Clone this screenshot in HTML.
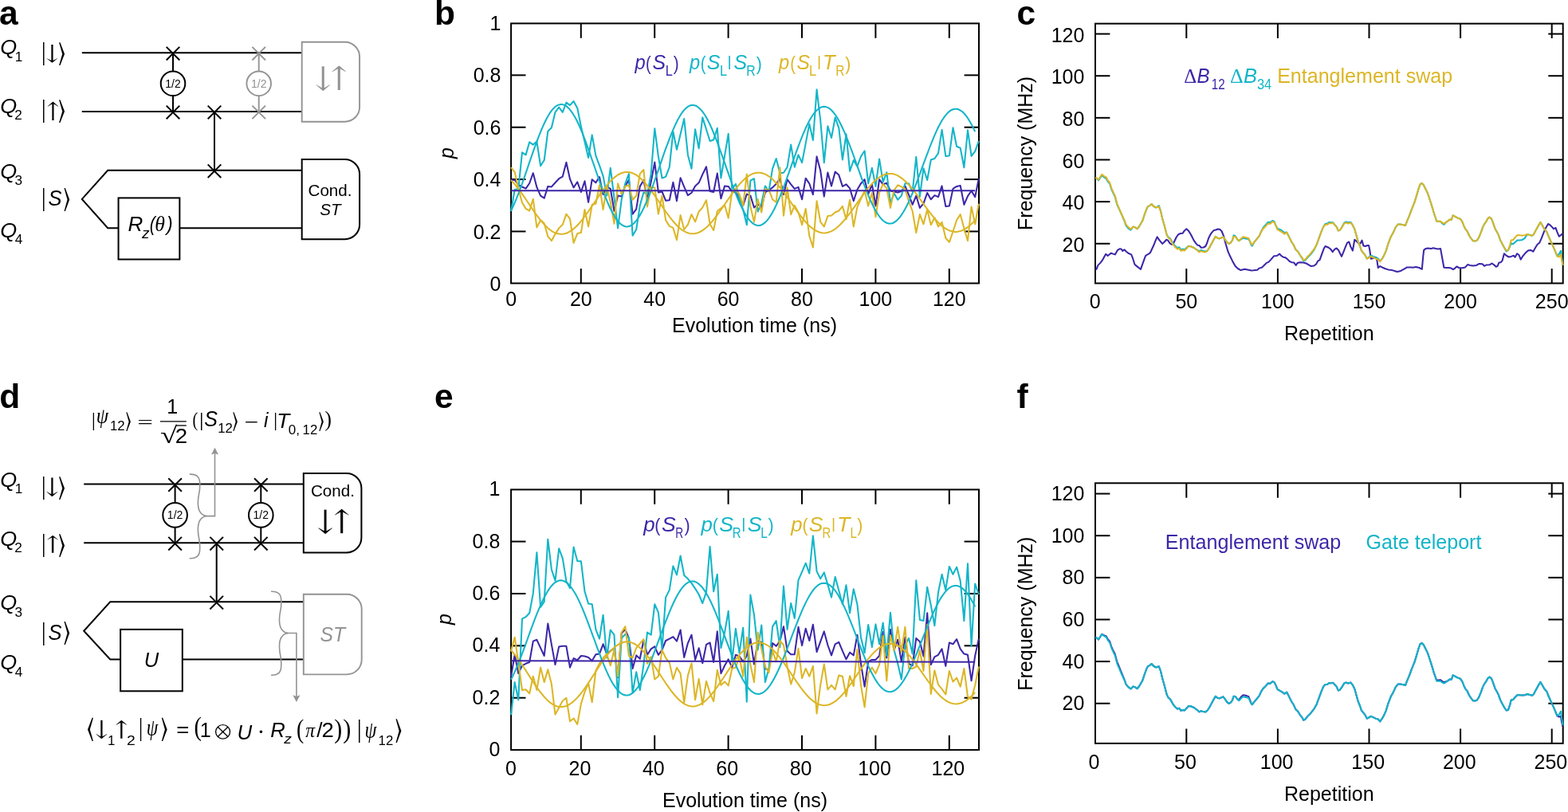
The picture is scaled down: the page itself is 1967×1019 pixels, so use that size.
<!DOCTYPE html>
<html lang="en"><head><meta charset="utf-8"><title>Figure</title>
<style>
html,body{margin:0;padding:0;background:#fff;}
body{width:1967px;height:1019px;overflow:hidden;}
svg{display:block;}
text{white-space:pre;}
</style></head><body>
<svg width="1967" height="1019" viewBox="0 0 1967 1019">
<rect x="0" y="0" width="1967" height="1019" fill="#ffffff"/>
<text x="-0.90" y="30.80" text-anchor="start" fill="#000" style='font-family:"Liberation Sans", sans-serif;font-size:42.5px;font-weight:bold;' >a</text>
<text x="545.10" y="30.80" text-anchor="start" fill="#000" style='font-family:"Liberation Sans", sans-serif;font-size:42.5px;font-weight:bold;' >b</text>
<text x="1275.40" y="30.80" text-anchor="start" fill="#000" style='font-family:"Liberation Sans", sans-serif;font-size:42.5px;font-weight:bold;' >c</text>
<text x="-0.80" y="512.00" text-anchor="start" fill="#000" style='font-family:"Liberation Sans", sans-serif;font-size:42.5px;font-weight:bold;' >d</text>
<text x="544.90" y="512.00" text-anchor="start" fill="#000" style='font-family:"Liberation Sans", sans-serif;font-size:42.5px;font-weight:bold;' >e</text>
<text x="1275.50" y="512.00" text-anchor="start" fill="#000" style='font-family:"Liberation Sans", sans-serif;font-size:42.5px;font-weight:bold;' >f</text>
<rect x="641.1" y="29.4" width="586.9" height="326.1" fill="none" stroke="#000" stroke-width="2.0"/>
<line x1="728.80" y1="355.50" x2="728.80" y2="337.10" stroke="#000" stroke-width="2.0" stroke-linecap="butt"/>
<line x1="728.80" y1="29.40" x2="728.80" y2="47.80" stroke="#000" stroke-width="2.0" stroke-linecap="butt"/>
<line x1="821.20" y1="355.50" x2="821.20" y2="337.10" stroke="#000" stroke-width="2.0" stroke-linecap="butt"/>
<line x1="821.20" y1="29.40" x2="821.20" y2="47.80" stroke="#000" stroke-width="2.0" stroke-linecap="butt"/>
<line x1="913.60" y1="355.50" x2="913.60" y2="337.10" stroke="#000" stroke-width="2.0" stroke-linecap="butt"/>
<line x1="913.60" y1="29.40" x2="913.60" y2="47.80" stroke="#000" stroke-width="2.0" stroke-linecap="butt"/>
<line x1="1006.00" y1="355.50" x2="1006.00" y2="337.10" stroke="#000" stroke-width="2.0" stroke-linecap="butt"/>
<line x1="1006.00" y1="29.40" x2="1006.00" y2="47.80" stroke="#000" stroke-width="2.0" stroke-linecap="butt"/>
<line x1="1098.40" y1="355.50" x2="1098.40" y2="337.10" stroke="#000" stroke-width="2.0" stroke-linecap="butt"/>
<line x1="1098.40" y1="29.40" x2="1098.40" y2="47.80" stroke="#000" stroke-width="2.0" stroke-linecap="butt"/>
<line x1="1190.80" y1="355.50" x2="1190.80" y2="337.10" stroke="#000" stroke-width="2.0" stroke-linecap="butt"/>
<line x1="1190.80" y1="29.40" x2="1190.80" y2="47.80" stroke="#000" stroke-width="2.0" stroke-linecap="butt"/>
<line x1="641.10" y1="290.44" x2="659.50" y2="290.44" stroke="#000" stroke-width="2.0" stroke-linecap="butt"/>
<line x1="1228.00" y1="290.44" x2="1209.60" y2="290.44" stroke="#000" stroke-width="2.0" stroke-linecap="butt"/>
<line x1="641.10" y1="225.08" x2="659.50" y2="225.08" stroke="#000" stroke-width="2.0" stroke-linecap="butt"/>
<line x1="1228.00" y1="225.08" x2="1209.60" y2="225.08" stroke="#000" stroke-width="2.0" stroke-linecap="butt"/>
<line x1="641.10" y1="159.72" x2="659.50" y2="159.72" stroke="#000" stroke-width="2.0" stroke-linecap="butt"/>
<line x1="1228.00" y1="159.72" x2="1209.60" y2="159.72" stroke="#000" stroke-width="2.0" stroke-linecap="butt"/>
<line x1="641.10" y1="94.36" x2="659.50" y2="94.36" stroke="#000" stroke-width="2.0" stroke-linecap="butt"/>
<line x1="1228.00" y1="94.36" x2="1209.60" y2="94.36" stroke="#000" stroke-width="2.0" stroke-linecap="butt"/>
<text x="641.10" y="384.00" text-anchor="middle" fill="#000" style='font-family:"Liberation Sans", sans-serif;font-size:25.0px;' >0</text>
<text x="728.80" y="384.00" text-anchor="middle" fill="#000" style='font-family:"Liberation Sans", sans-serif;font-size:25.0px;' >20</text>
<text x="821.20" y="384.00" text-anchor="middle" fill="#000" style='font-family:"Liberation Sans", sans-serif;font-size:25.0px;' >40</text>
<text x="913.60" y="384.00" text-anchor="middle" fill="#000" style='font-family:"Liberation Sans", sans-serif;font-size:25.0px;' >60</text>
<text x="1006.00" y="384.00" text-anchor="middle" fill="#000" style='font-family:"Liberation Sans", sans-serif;font-size:25.0px;' >80</text>
<text x="1098.40" y="384.00" text-anchor="middle" fill="#000" style='font-family:"Liberation Sans", sans-serif;font-size:25.0px;' >100</text>
<text x="1190.80" y="384.00" text-anchor="middle" fill="#000" style='font-family:"Liberation Sans", sans-serif;font-size:25.0px;' >120</text>
<text x="628.40" y="364.90" text-anchor="end" fill="#000" style='font-family:"Liberation Sans", sans-serif;font-size:25.0px;' >0</text>
<text x="628.40" y="299.54" text-anchor="end" fill="#000" style='font-family:"Liberation Sans", sans-serif;font-size:25.0px;' >0.2</text>
<text x="628.40" y="234.18" text-anchor="end" fill="#000" style='font-family:"Liberation Sans", sans-serif;font-size:25.0px;' >0.4</text>
<text x="628.40" y="168.82" text-anchor="end" fill="#000" style='font-family:"Liberation Sans", sans-serif;font-size:25.0px;' >0.6</text>
<text x="628.40" y="103.46" text-anchor="end" fill="#000" style='font-family:"Liberation Sans", sans-serif;font-size:25.0px;' >0.8</text>
<text x="628.40" y="38.10" text-anchor="end" fill="#000" style='font-family:"Liberation Sans", sans-serif;font-size:25.0px;' >1</text>
<text x="843.00" y="416.80" text-anchor="start" fill="#000" style='font-family:"Liberation Sans", sans-serif;font-size:25.0px;' >Evolution time (ns)</text>
<text transform='translate(568.5,192) rotate(-90)' text-anchor='middle' style='font-family:"Liberation Sans", sans-serif;font-size:25.0px;font-style:italic'>p</text>
<rect x="641.1" y="614.4" width="586.9" height="326.70000000000005" fill="none" stroke="#000" stroke-width="2.0"/>
<line x1="728.80" y1="941.10" x2="728.80" y2="922.70" stroke="#000" stroke-width="2.0" stroke-linecap="butt"/>
<line x1="728.80" y1="614.40" x2="728.80" y2="632.80" stroke="#000" stroke-width="2.0" stroke-linecap="butt"/>
<line x1="821.20" y1="941.10" x2="821.20" y2="922.70" stroke="#000" stroke-width="2.0" stroke-linecap="butt"/>
<line x1="821.20" y1="614.40" x2="821.20" y2="632.80" stroke="#000" stroke-width="2.0" stroke-linecap="butt"/>
<line x1="913.60" y1="941.10" x2="913.60" y2="922.70" stroke="#000" stroke-width="2.0" stroke-linecap="butt"/>
<line x1="913.60" y1="614.40" x2="913.60" y2="632.80" stroke="#000" stroke-width="2.0" stroke-linecap="butt"/>
<line x1="1006.00" y1="941.10" x2="1006.00" y2="922.70" stroke="#000" stroke-width="2.0" stroke-linecap="butt"/>
<line x1="1006.00" y1="614.40" x2="1006.00" y2="632.80" stroke="#000" stroke-width="2.0" stroke-linecap="butt"/>
<line x1="1098.40" y1="941.10" x2="1098.40" y2="922.70" stroke="#000" stroke-width="2.0" stroke-linecap="butt"/>
<line x1="1098.40" y1="614.40" x2="1098.40" y2="632.80" stroke="#000" stroke-width="2.0" stroke-linecap="butt"/>
<line x1="1190.80" y1="941.10" x2="1190.80" y2="922.70" stroke="#000" stroke-width="2.0" stroke-linecap="butt"/>
<line x1="1190.80" y1="614.40" x2="1190.80" y2="632.80" stroke="#000" stroke-width="2.0" stroke-linecap="butt"/>
<line x1="641.10" y1="875.72" x2="659.50" y2="875.72" stroke="#000" stroke-width="2.0" stroke-linecap="butt"/>
<line x1="1228.00" y1="875.72" x2="1209.60" y2="875.72" stroke="#000" stroke-width="2.0" stroke-linecap="butt"/>
<line x1="641.10" y1="810.34" x2="659.50" y2="810.34" stroke="#000" stroke-width="2.0" stroke-linecap="butt"/>
<line x1="1228.00" y1="810.34" x2="1209.60" y2="810.34" stroke="#000" stroke-width="2.0" stroke-linecap="butt"/>
<line x1="641.10" y1="744.96" x2="659.50" y2="744.96" stroke="#000" stroke-width="2.0" stroke-linecap="butt"/>
<line x1="1228.00" y1="744.96" x2="1209.60" y2="744.96" stroke="#000" stroke-width="2.0" stroke-linecap="butt"/>
<line x1="641.10" y1="679.58" x2="659.50" y2="679.58" stroke="#000" stroke-width="2.0" stroke-linecap="butt"/>
<line x1="1228.00" y1="679.58" x2="1209.60" y2="679.58" stroke="#000" stroke-width="2.0" stroke-linecap="butt"/>
<text x="641.00" y="973.30" text-anchor="middle" fill="#000" style='font-family:"Liberation Sans", sans-serif;font-size:25.0px;' >0</text>
<text x="727.40" y="973.30" text-anchor="middle" fill="#000" style='font-family:"Liberation Sans", sans-serif;font-size:25.0px;' >20</text>
<text x="819.80" y="973.30" text-anchor="middle" fill="#000" style='font-family:"Liberation Sans", sans-serif;font-size:25.0px;' >40</text>
<text x="912.20" y="973.30" text-anchor="middle" fill="#000" style='font-family:"Liberation Sans", sans-serif;font-size:25.0px;' >60</text>
<text x="1004.60" y="973.30" text-anchor="middle" fill="#000" style='font-family:"Liberation Sans", sans-serif;font-size:25.0px;' >80</text>
<text x="1097.00" y="973.30" text-anchor="middle" fill="#000" style='font-family:"Liberation Sans", sans-serif;font-size:25.0px;' >100</text>
<text x="1189.40" y="973.30" text-anchor="middle" fill="#000" style='font-family:"Liberation Sans", sans-serif;font-size:25.0px;' >120</text>
<text x="627.30" y="949.20" text-anchor="end" fill="#000" style='font-family:"Liberation Sans", sans-serif;font-size:25.0px;' >0</text>
<text x="627.30" y="883.82" text-anchor="end" fill="#000" style='font-family:"Liberation Sans", sans-serif;font-size:25.0px;' >0.2</text>
<text x="627.30" y="818.44" text-anchor="end" fill="#000" style='font-family:"Liberation Sans", sans-serif;font-size:25.0px;' >0.4</text>
<text x="627.30" y="753.06" text-anchor="end" fill="#000" style='font-family:"Liberation Sans", sans-serif;font-size:25.0px;' >0.6</text>
<text x="627.30" y="687.68" text-anchor="end" fill="#000" style='font-family:"Liberation Sans", sans-serif;font-size:25.0px;' >0.8</text>
<text x="627.30" y="622.30" text-anchor="end" fill="#000" style='font-family:"Liberation Sans", sans-serif;font-size:25.0px;' >1</text>
<text x="831.00" y="1013.00" text-anchor="start" fill="#000" style='font-family:"Liberation Sans", sans-serif;font-size:25.0px;' >Evolution time (ns)</text>
<text transform='translate(566.0,777) rotate(-90)' text-anchor='middle' style='font-family:"Liberation Sans", sans-serif;font-size:25.0px;font-style:italic'>p</text>
<rect x="1374.0" y="29.65" width="586.7" height="325.85" fill="none" stroke="#000" stroke-width="2.0"/>
<line x1="1488.30" y1="355.50" x2="1488.30" y2="337.10" stroke="#000" stroke-width="2.0" stroke-linecap="butt"/>
<line x1="1488.30" y1="29.65" x2="1488.30" y2="48.05" stroke="#000" stroke-width="2.0" stroke-linecap="butt"/>
<line x1="1602.90" y1="355.50" x2="1602.90" y2="337.10" stroke="#000" stroke-width="2.0" stroke-linecap="butt"/>
<line x1="1602.90" y1="29.65" x2="1602.90" y2="48.05" stroke="#000" stroke-width="2.0" stroke-linecap="butt"/>
<line x1="1717.50" y1="355.50" x2="1717.50" y2="337.10" stroke="#000" stroke-width="2.0" stroke-linecap="butt"/>
<line x1="1717.50" y1="29.65" x2="1717.50" y2="48.05" stroke="#000" stroke-width="2.0" stroke-linecap="butt"/>
<line x1="1832.10" y1="355.50" x2="1832.10" y2="337.10" stroke="#000" stroke-width="2.0" stroke-linecap="butt"/>
<line x1="1832.10" y1="29.65" x2="1832.10" y2="48.05" stroke="#000" stroke-width="2.0" stroke-linecap="butt"/>
<line x1="1946.70" y1="355.50" x2="1946.70" y2="337.10" stroke="#000" stroke-width="2.0" stroke-linecap="butt"/>
<line x1="1946.70" y1="29.65" x2="1946.70" y2="48.05" stroke="#000" stroke-width="2.0" stroke-linecap="butt"/>
<line x1="1374.00" y1="305.76" x2="1392.40" y2="305.76" stroke="#000" stroke-width="2.0" stroke-linecap="butt"/>
<line x1="1960.70" y1="305.76" x2="1942.30" y2="305.76" stroke="#000" stroke-width="2.0" stroke-linecap="butt"/>
<line x1="1374.00" y1="253.12" x2="1392.40" y2="253.12" stroke="#000" stroke-width="2.0" stroke-linecap="butt"/>
<line x1="1960.70" y1="253.12" x2="1942.30" y2="253.12" stroke="#000" stroke-width="2.0" stroke-linecap="butt"/>
<line x1="1374.00" y1="200.48" x2="1392.40" y2="200.48" stroke="#000" stroke-width="2.0" stroke-linecap="butt"/>
<line x1="1960.70" y1="200.48" x2="1942.30" y2="200.48" stroke="#000" stroke-width="2.0" stroke-linecap="butt"/>
<line x1="1374.00" y1="147.84" x2="1392.40" y2="147.84" stroke="#000" stroke-width="2.0" stroke-linecap="butt"/>
<line x1="1960.70" y1="147.84" x2="1942.30" y2="147.84" stroke="#000" stroke-width="2.0" stroke-linecap="butt"/>
<line x1="1374.00" y1="95.20" x2="1392.40" y2="95.20" stroke="#000" stroke-width="2.0" stroke-linecap="butt"/>
<line x1="1960.70" y1="95.20" x2="1942.30" y2="95.20" stroke="#000" stroke-width="2.0" stroke-linecap="butt"/>
<line x1="1374.00" y1="42.56" x2="1392.40" y2="42.56" stroke="#000" stroke-width="2.0" stroke-linecap="butt"/>
<line x1="1960.70" y1="42.56" x2="1942.30" y2="42.56" stroke="#000" stroke-width="2.0" stroke-linecap="butt"/>
<text x="1373.70" y="386.80" text-anchor="middle" fill="#000" style='font-family:"Liberation Sans", sans-serif;font-size:25.0px;' >0</text>
<text x="1488.30" y="386.80" text-anchor="middle" fill="#000" style='font-family:"Liberation Sans", sans-serif;font-size:25.0px;' >50</text>
<text x="1602.90" y="386.80" text-anchor="middle" fill="#000" style='font-family:"Liberation Sans", sans-serif;font-size:25.0px;' >100</text>
<text x="1717.50" y="386.80" text-anchor="middle" fill="#000" style='font-family:"Liberation Sans", sans-serif;font-size:25.0px;' >150</text>
<text x="1832.10" y="386.80" text-anchor="middle" fill="#000" style='font-family:"Liberation Sans", sans-serif;font-size:25.0px;' >200</text>
<text x="1946.70" y="386.80" text-anchor="middle" fill="#000" style='font-family:"Liberation Sans", sans-serif;font-size:25.0px;' >250</text>
<text x="1360.40" y="315.86" text-anchor="end" fill="#000" style='font-family:"Liberation Sans", sans-serif;font-size:25.0px;' >20</text>
<text x="1360.40" y="263.22" text-anchor="end" fill="#000" style='font-family:"Liberation Sans", sans-serif;font-size:25.0px;' >40</text>
<text x="1360.40" y="210.58" text-anchor="end" fill="#000" style='font-family:"Liberation Sans", sans-serif;font-size:25.0px;' >60</text>
<text x="1360.40" y="157.94" text-anchor="end" fill="#000" style='font-family:"Liberation Sans", sans-serif;font-size:25.0px;' >80</text>
<text x="1360.40" y="105.30" text-anchor="end" fill="#000" style='font-family:"Liberation Sans", sans-serif;font-size:25.0px;' >100</text>
<text x="1360.40" y="52.66" text-anchor="end" fill="#000" style='font-family:"Liberation Sans", sans-serif;font-size:25.0px;' >120</text>
<text x="1611.00" y="427.10" text-anchor="start" fill="#000" style='font-family:"Liberation Sans", sans-serif;font-size:25.0px;' >Repetition</text>
<text transform='translate(1295.4,192.4) rotate(-90)' text-anchor='middle' style='font-family:"Liberation Sans", sans-serif;font-size:25.0px;'>Frequency (MHz)</text>
<rect x="1374.0" y="606.3" width="586.7" height="326.6" fill="none" stroke="#000" stroke-width="2.0"/>
<line x1="1488.30" y1="932.90" x2="1488.30" y2="914.50" stroke="#000" stroke-width="2.0" stroke-linecap="butt"/>
<line x1="1488.30" y1="606.30" x2="1488.30" y2="624.70" stroke="#000" stroke-width="2.0" stroke-linecap="butt"/>
<line x1="1602.90" y1="932.90" x2="1602.90" y2="914.50" stroke="#000" stroke-width="2.0" stroke-linecap="butt"/>
<line x1="1602.90" y1="606.30" x2="1602.90" y2="624.70" stroke="#000" stroke-width="2.0" stroke-linecap="butt"/>
<line x1="1717.50" y1="932.90" x2="1717.50" y2="914.50" stroke="#000" stroke-width="2.0" stroke-linecap="butt"/>
<line x1="1717.50" y1="606.30" x2="1717.50" y2="624.70" stroke="#000" stroke-width="2.0" stroke-linecap="butt"/>
<line x1="1832.10" y1="932.90" x2="1832.10" y2="914.50" stroke="#000" stroke-width="2.0" stroke-linecap="butt"/>
<line x1="1832.10" y1="606.30" x2="1832.10" y2="624.70" stroke="#000" stroke-width="2.0" stroke-linecap="butt"/>
<line x1="1946.70" y1="932.90" x2="1946.70" y2="914.50" stroke="#000" stroke-width="2.0" stroke-linecap="butt"/>
<line x1="1946.70" y1="606.30" x2="1946.70" y2="624.70" stroke="#000" stroke-width="2.0" stroke-linecap="butt"/>
<line x1="1374.00" y1="882.76" x2="1392.40" y2="882.76" stroke="#000" stroke-width="2.0" stroke-linecap="butt"/>
<line x1="1960.70" y1="882.76" x2="1942.30" y2="882.76" stroke="#000" stroke-width="2.0" stroke-linecap="butt"/>
<line x1="1374.00" y1="830.12" x2="1392.40" y2="830.12" stroke="#000" stroke-width="2.0" stroke-linecap="butt"/>
<line x1="1960.70" y1="830.12" x2="1942.30" y2="830.12" stroke="#000" stroke-width="2.0" stroke-linecap="butt"/>
<line x1="1374.00" y1="777.48" x2="1392.40" y2="777.48" stroke="#000" stroke-width="2.0" stroke-linecap="butt"/>
<line x1="1960.70" y1="777.48" x2="1942.30" y2="777.48" stroke="#000" stroke-width="2.0" stroke-linecap="butt"/>
<line x1="1374.00" y1="724.84" x2="1392.40" y2="724.84" stroke="#000" stroke-width="2.0" stroke-linecap="butt"/>
<line x1="1960.70" y1="724.84" x2="1942.30" y2="724.84" stroke="#000" stroke-width="2.0" stroke-linecap="butt"/>
<line x1="1374.00" y1="672.20" x2="1392.40" y2="672.20" stroke="#000" stroke-width="2.0" stroke-linecap="butt"/>
<line x1="1960.70" y1="672.20" x2="1942.30" y2="672.20" stroke="#000" stroke-width="2.0" stroke-linecap="butt"/>
<line x1="1374.00" y1="619.56" x2="1392.40" y2="619.56" stroke="#000" stroke-width="2.0" stroke-linecap="butt"/>
<line x1="1960.70" y1="619.56" x2="1942.30" y2="619.56" stroke="#000" stroke-width="2.0" stroke-linecap="butt"/>
<text x="1372.40" y="965.30" text-anchor="middle" fill="#000" style='font-family:"Liberation Sans", sans-serif;font-size:25.0px;' >0</text>
<text x="1487.00" y="965.30" text-anchor="middle" fill="#000" style='font-family:"Liberation Sans", sans-serif;font-size:25.0px;' >50</text>
<text x="1601.60" y="965.30" text-anchor="middle" fill="#000" style='font-family:"Liberation Sans", sans-serif;font-size:25.0px;' >100</text>
<text x="1716.20" y="965.30" text-anchor="middle" fill="#000" style='font-family:"Liberation Sans", sans-serif;font-size:25.0px;' >150</text>
<text x="1830.80" y="965.30" text-anchor="middle" fill="#000" style='font-family:"Liberation Sans", sans-serif;font-size:25.0px;' >200</text>
<text x="1945.40" y="965.30" text-anchor="middle" fill="#000" style='font-family:"Liberation Sans", sans-serif;font-size:25.0px;' >250</text>
<text x="1360.40" y="891.16" text-anchor="end" fill="#000" style='font-family:"Liberation Sans", sans-serif;font-size:25.0px;' >20</text>
<text x="1360.40" y="838.52" text-anchor="end" fill="#000" style='font-family:"Liberation Sans", sans-serif;font-size:25.0px;' >40</text>
<text x="1360.40" y="785.88" text-anchor="end" fill="#000" style='font-family:"Liberation Sans", sans-serif;font-size:25.0px;' >60</text>
<text x="1360.40" y="733.24" text-anchor="end" fill="#000" style='font-family:"Liberation Sans", sans-serif;font-size:25.0px;' >80</text>
<text x="1360.40" y="680.60" text-anchor="end" fill="#000" style='font-family:"Liberation Sans", sans-serif;font-size:25.0px;' >100</text>
<text x="1360.40" y="627.96" text-anchor="end" fill="#000" style='font-family:"Liberation Sans", sans-serif;font-size:25.0px;' >120</text>
<text x="1611.00" y="1005.00" text-anchor="start" fill="#000" style='font-family:"Liberation Sans", sans-serif;font-size:25.0px;' >Repetition</text>
<text transform='translate(1295.4,770.2) rotate(-90)' text-anchor='middle' style='font-family:"Liberation Sans", sans-serif;font-size:25.0px;'>Frequency (MHz)</text>
<text transform="translate(796.59,87.40) scale(0.947,1)" fill="#3d26a8" style='font-family:"Liberation Sans", sans-serif;font-size:25.00px;font-style:italic;'>p</text>
<text transform="translate(810.06,87.70) scale(0.816,1)" fill="#3d26a8" style='font-family:"Liberation Sans", sans-serif;font-size:24.50px;'>(</text>
<text transform="translate(818.60,87.40) scale(0.994,1)" fill="#3d26a8" style='font-family:"Liberation Sans", sans-serif;font-size:25.00px;font-style:italic;'>S</text>
<text transform="translate(834.76,94.90) scale(0.907,1)" fill="#3d26a8" style='font-family:"Liberation Sans", sans-serif;font-size:18.00px;'>L</text>
<text transform="translate(844.68,87.70) scale(0.847,1)" fill="#3d26a8" style='font-family:"Liberation Sans", sans-serif;font-size:24.50px;'>)</text>
<text transform="translate(864.89,87.40) scale(0.947,1)" fill="#12b5c8" style='font-family:"Liberation Sans", sans-serif;font-size:25.00px;font-style:italic;'>p</text>
<text transform="translate(878.66,87.70) scale(0.816,1)" fill="#12b5c8" style='font-family:"Liberation Sans", sans-serif;font-size:24.50px;'>(</text>
<text transform="translate(886.79,87.40) scale(1.000,1)" fill="#12b5c8" style='font-family:"Liberation Sans", sans-serif;font-size:25.00px;font-style:italic;'>S</text>
<text transform="translate(902.96,94.90) scale(0.907,1)" fill="#12b5c8" style='font-family:"Liberation Sans", sans-serif;font-size:18.00px;'>L</text>
<text transform="translate(912.44,83.03) scale(1.027,1)" fill="#12b5c8" style='font-family:"Liberation Sans", sans-serif;font-size:19.22px;'>|</text>
<text transform="translate(920.39,87.40) scale(1.000,1)" fill="#12b5c8" style='font-family:"Liberation Sans", sans-serif;font-size:25.00px;font-style:italic;'>S</text>
<text transform="translate(936.30,94.90) scale(0.880,1)" fill="#12b5c8" style='font-family:"Liberation Sans", sans-serif;font-size:18.00px;'>R</text>
<text transform="translate(948.68,87.70) scale(0.862,1)" fill="#12b5c8" style='font-family:"Liberation Sans", sans-serif;font-size:24.50px;'>)</text>
<text transform="translate(976.99,87.40) scale(0.947,1)" fill="#dcb626" style='font-family:"Liberation Sans", sans-serif;font-size:25.00px;font-style:italic;'>p</text>
<text transform="translate(991.14,87.70) scale(0.831,1)" fill="#dcb626" style='font-family:"Liberation Sans", sans-serif;font-size:24.50px;'>(</text>
<text transform="translate(999.40,87.40) scale(0.987,1)" fill="#dcb626" style='font-family:"Liberation Sans", sans-serif;font-size:25.00px;font-style:italic;'>S</text>
<text transform="translate(1015.04,94.90) scale(0.920,1)" fill="#dcb626" style='font-family:"Liberation Sans", sans-serif;font-size:18.00px;'>L</text>
<text transform="translate(1025.04,83.03) scale(1.027,1)" fill="#dcb626" style='font-family:"Liberation Sans", sans-serif;font-size:19.22px;'>|</text>
<text transform="translate(1032.11,87.40) scale(1.021,1)" fill="#dcb626" style='font-family:"Liberation Sans", sans-serif;font-size:25.00px;font-style:italic;'>T</text>
<text transform="translate(1048.33,94.90) scale(0.861,1)" fill="#dcb626" style='font-family:"Liberation Sans", sans-serif;font-size:18.00px;'>R</text>
<text transform="translate(1060.28,87.70) scale(0.862,1)" fill="#dcb626" style='font-family:"Liberation Sans", sans-serif;font-size:24.50px;'>)</text>
<text transform="translate(807.14,667.00) scale(1.035,1)" fill="#3d26a8" style='font-family:"Liberation Sans", sans-serif;font-size:25.00px;font-style:italic;'>p</text>
<text transform="translate(821.27,667.30) scale(0.877,1)" fill="#3d26a8" style='font-family:"Liberation Sans", sans-serif;font-size:24.50px;'>(</text>
<text transform="translate(830.05,667.00) scale(1.064,1)" fill="#3d26a8" style='font-family:"Liberation Sans", sans-serif;font-size:25.00px;font-style:italic;'>S</text>
<text transform="translate(847.28,674.50) scale(0.758,1)" fill="#3d26a8" style='font-family:"Liberation Sans", sans-serif;font-size:18.00px;'>R</text>
<text transform="translate(858.57,667.30) scale(0.877,1)" fill="#3d26a8" style='font-family:"Liberation Sans", sans-serif;font-size:24.50px;'>)</text>
<text transform="translate(879.54,667.00) scale(1.035,1)" fill="#12b5c8" style='font-family:"Liberation Sans", sans-serif;font-size:25.00px;font-style:italic;'>p</text>
<text transform="translate(893.67,667.30) scale(0.877,1)" fill="#12b5c8" style='font-family:"Liberation Sans", sans-serif;font-size:24.50px;'>(</text>
<text transform="translate(902.34,667.00) scale(1.070,1)" fill="#12b5c8" style='font-family:"Liberation Sans", sans-serif;font-size:25.00px;font-style:italic;'>S</text>
<text transform="translate(918.77,674.50) scale(0.833,1)" fill="#12b5c8" style='font-family:"Liberation Sans", sans-serif;font-size:18.00px;'>R</text>
<text transform="translate(930.24,662.63) scale(1.027,1)" fill="#12b5c8" style='font-family:"Liberation Sans", sans-serif;font-size:19.22px;'>|</text>
<text transform="translate(937.84,667.00) scale(1.070,1)" fill="#12b5c8" style='font-family:"Liberation Sans", sans-serif;font-size:25.00px;font-style:italic;'>S</text>
<text transform="translate(954.13,674.50) scale(0.857,1)" fill="#12b5c8" style='font-family:"Liberation Sans", sans-serif;font-size:18.00px;'>L</text>
<text transform="translate(963.47,667.30) scale(0.877,1)" fill="#12b5c8" style='font-family:"Liberation Sans", sans-serif;font-size:24.50px;'>)</text>
<text transform="translate(992.14,667.00) scale(1.028,1)" fill="#dcb626" style='font-family:"Liberation Sans", sans-serif;font-size:25.00px;font-style:italic;'>p</text>
<text transform="translate(1006.49,667.30) scale(0.862,1)" fill="#dcb626" style='font-family:"Liberation Sans", sans-serif;font-size:24.50px;'>(</text>
<text transform="translate(1014.85,667.00) scale(1.057,1)" fill="#dcb626" style='font-family:"Liberation Sans", sans-serif;font-size:25.00px;font-style:italic;'>S</text>
<text transform="translate(1031.58,674.50) scale(0.823,1)" fill="#dcb626" style='font-family:"Liberation Sans", sans-serif;font-size:18.00px;'>R</text>
<text transform="translate(1042.94,662.63) scale(1.027,1)" fill="#dcb626" style='font-family:"Liberation Sans", sans-serif;font-size:19.22px;'>|</text>
<text transform="translate(1050.10,667.00) scale(1.069,1)" fill="#dcb626" style='font-family:"Liberation Sans", sans-serif;font-size:25.00px;font-style:italic;'>T</text>
<text transform="translate(1066.55,674.50) scale(0.844,1)" fill="#dcb626" style='font-family:"Liberation Sans", sans-serif;font-size:18.00px;'>L</text>
<text transform="translate(1075.28,667.30) scale(0.862,1)" fill="#dcb626" style='font-family:"Liberation Sans", sans-serif;font-size:24.50px;'>)</text>
<text transform="translate(1485.15,103.60) scale(0.965,1)" fill="#3d26a8" style='font-family:"Liberation Serif", "DejaVu Serif", serif;font-size:25.75px;'>Δ</text>
<text transform="translate(1501.46,103.60) scale(0.963,1)" fill="#3d26a8" style='font-family:"Liberation Sans", sans-serif;font-size:25.00px;font-style:italic;'>B</text>
<text transform="translate(1519.74,111.90) scale(0.845,1)" fill="#3d26a8" style='font-family:"Liberation Sans", sans-serif;font-size:18.00px;'>12</text>
<text transform="translate(1543.11,103.60) scale(1.006,1)" fill="#12b5c8" style='font-family:"Liberation Serif", "DejaVu Serif", serif;font-size:25.75px;'>Δ</text>
<text transform="translate(1560.02,103.60) scale(1.017,1)" fill="#12b5c8" style='font-family:"Liberation Sans", sans-serif;font-size:25.00px;font-style:italic;'>B</text>
<text transform="translate(1576.97,111.90) scale(0.914,1)" fill="#12b5c8" style='font-family:"Liberation Sans", sans-serif;font-size:18.00px;'>34</text>
<text transform="translate(1602.14,103.60) scale(1.003,1)" fill="#dcb626" style='font-family:"Liberation Sans", sans-serif;font-size:25.00px;'>Entanglement swap</text>
<text transform="translate(1461.84,689.20) scale(1.004,1)" fill="#3d26a8" style='font-family:"Liberation Sans", sans-serif;font-size:25.00px;'>Entanglement swap</text>
<text transform="translate(1713.54,689.20) scale(1.003,1)" fill="#12b5c8" style='font-family:"Liberation Sans", sans-serif;font-size:25.00px;'>Gate teleport</text>
<text transform="translate(0.27,68.40) scale(1.027,1)" fill="#000" style='font-family:"Liberation Sans", sans-serif;font-size:26.30px;font-style:italic;'>Q</text>
<text x="18.73" y="76.60" fill="#000" style='font-family:"Liberation Sans", sans-serif;font-size:17.20px;'>1</text>
<text transform="translate(0.27,142.00) scale(1.027,1)" fill="#000" style='font-family:"Liberation Sans", sans-serif;font-size:26.30px;font-style:italic;'>Q</text>
<text x="18.33" y="150.20" fill="#000" style='font-family:"Liberation Sans", sans-serif;font-size:17.20px;'>2</text>
<text transform="translate(0.27,224.00) scale(1.027,1)" fill="#000" style='font-family:"Liberation Sans", sans-serif;font-size:26.30px;font-style:italic;'>Q</text>
<text x="18.54" y="232.20" fill="#000" style='font-family:"Liberation Sans", sans-serif;font-size:17.20px;'>3</text>
<text transform="translate(0.27,297.50) scale(1.027,1)" fill="#000" style='font-family:"Liberation Sans", sans-serif;font-size:26.30px;font-style:italic;'>Q</text>
<text x="18.81" y="305.70" fill="#000" style='font-family:"Liberation Sans", sans-serif;font-size:17.20px;'>4</text>
<text transform="translate(51.74,75.22) scale(0.945,1)" fill="#000" style='font-family:"Liberation Serif", "DejaVu Serif", serif;font-size:31.88px;'>|</text>
<text transform="translate(56.05,75.24) scale(1.207,1)" fill="#000" stroke="#fff" stroke-width="0.15" paint-order="fill stroke" stroke-linejoin="round" style='font-family:"DejaVu Math TeX Gyre", "DejaVu Serif", "DejaVu Sans", serif;font-size:27.40px;'>↓</text>
<text transform="translate(72.80,77.10) scale(0.722,1)" fill="#000" style='font-family:"DejaVu Math TeX Gyre", "DejaVu Serif", "DejaVu Sans", serif;font-size:34.00px;'>⟩</text>
<text transform="translate(51.74,147.02) scale(0.945,1)" fill="#000" style='font-family:"Liberation Serif", "DejaVu Serif", serif;font-size:31.88px;'>|</text>
<text transform="translate(57.31,147.07) scale(1.160,1)" fill="#000" stroke="#fff" stroke-width="0.15" paint-order="fill stroke" stroke-linejoin="round" style='font-family:"DejaVu Math TeX Gyre", "DejaVu Serif", "DejaVu Sans", serif;font-size:27.88px;'>↑</text>
<text transform="translate(72.80,148.90) scale(0.722,1)" fill="#000" style='font-family:"DejaVu Math TeX Gyre", "DejaVu Serif", "DejaVu Sans", serif;font-size:34.00px;'>⟩</text>
<text transform="translate(51.74,257.92) scale(0.945,1)" fill="#000" style='font-family:"Liberation Serif", "DejaVu Serif", serif;font-size:31.88px;'>|</text>
<text transform="translate(60.48,258.30) scale(0.944,1)" fill="#000" style='font-family:"Liberation Sans", sans-serif;font-size:27.00px;font-style:italic;'>S</text>
<text transform="translate(79.35,259.75) scale(0.684,1)" fill="#000" style='font-family:"DejaVu Math TeX Gyre", "DejaVu Serif", "DejaVu Sans", serif;font-size:34.36px;'>⟩</text>
<line x1="102.80" y1="66.30" x2="378.70" y2="66.30" stroke="#000" stroke-width="2.0" stroke-linecap="butt"/>
<line x1="102.80" y1="140.00" x2="378.70" y2="140.00" stroke="#000" stroke-width="2.0" stroke-linecap="butt"/>
<polyline points="378.7,213.8 135.2,213.8 102.8,249.9 135.2,286.2 148.5,286.2" fill="none" stroke="#000" stroke-width="2.0" stroke-linejoin="miter"/>
<line x1="225.30" y1="286.20" x2="378.70" y2="286.20" stroke="#000" stroke-width="2.0" stroke-linecap="butt"/>
<rect x="148.55" y="248.4" width="76.8" height="77.1" fill="#fff" stroke="#000" stroke-width="2.0"/>
<text transform="translate(160.40,289.60) scale(1.018,1)" fill="#000" style='font-family:"Liberation Sans", sans-serif;font-size:25.58px;font-style:italic;'>R</text>
<text transform="translate(178.01,298.70) scale(1.073,1)" fill="#000" style='font-family:"Liberation Sans", sans-serif;font-size:17.98px;font-style:italic;'>z</text>
<text transform="translate(187.73,289.69) scale(0.810,1)" fill="#000" style='font-family:"Liberation Sans", sans-serif;font-size:25.65px;font-style:italic;'>(</text>
<text transform="translate(194.24,290.24) scale(0.977,1)" fill="#000" style='font-family:"Liberation Serif", "DejaVu Serif", serif;font-size:26.38px;font-style:italic;'>θ</text>
<text transform="translate(209.05,289.69) scale(0.905,1)" fill="#000" style='font-family:"Liberation Sans", sans-serif;font-size:25.65px;font-style:italic;'>)</text>
<line x1="217.00" y1="66.30" x2="217.00" y2="140.00" stroke="#000" stroke-width="2.0" stroke-linecap="butt"/>
<circle cx="217.0" cy="104.8" r="15.3" fill="#fff" stroke="#000" stroke-width="2.0"/>
<text x="217.00" y="109.80" text-anchor="middle" fill="#000" style='font-family:"Liberation Sans", sans-serif;font-size:14.0px;' >1/2</text>
<line x1="208.70" y1="58.90" x2="225.30" y2="75.50" stroke="#000" stroke-width="2.0" stroke-linecap="butt"/>
<line x1="208.70" y1="75.50" x2="225.30" y2="58.90" stroke="#000" stroke-width="2.0" stroke-linecap="butt"/>
<line x1="208.70" y1="132.60" x2="225.30" y2="149.20" stroke="#000" stroke-width="2.0" stroke-linecap="butt"/>
<line x1="208.70" y1="149.20" x2="225.30" y2="132.60" stroke="#000" stroke-width="2.0" stroke-linecap="butt"/>
<line x1="324.70" y1="66.30" x2="324.70" y2="140.00" stroke="#939393" stroke-width="1.9" stroke-linecap="butt"/>
<circle cx="324.7" cy="104.8" r="15.3" fill="#fff" stroke="#939393" stroke-width="1.9"/>
<text x="324.70" y="109.80" text-anchor="middle" fill="#939393" style='font-family:"Liberation Sans", sans-serif;font-size:14.0px;' >1/2</text>
<line x1="316.40" y1="58.90" x2="333.00" y2="75.50" stroke="#939393" stroke-width="1.9" stroke-linecap="butt"/>
<line x1="316.40" y1="75.50" x2="333.00" y2="58.90" stroke="#939393" stroke-width="1.9" stroke-linecap="butt"/>
<line x1="316.40" y1="132.60" x2="333.00" y2="149.20" stroke="#939393" stroke-width="1.9" stroke-linecap="butt"/>
<line x1="316.40" y1="149.20" x2="333.00" y2="132.60" stroke="#939393" stroke-width="1.9" stroke-linecap="butt"/>
<line x1="269.00" y1="140.00" x2="269.00" y2="213.80" stroke="#000" stroke-width="2.0" stroke-linecap="butt"/>
<line x1="260.70" y1="132.60" x2="277.30" y2="149.20" stroke="#000" stroke-width="2.0" stroke-linecap="butt"/>
<line x1="260.70" y1="149.20" x2="277.30" y2="132.60" stroke="#000" stroke-width="2.0" stroke-linecap="butt"/>
<line x1="260.70" y1="206.40" x2="277.30" y2="223.00" stroke="#000" stroke-width="2.0" stroke-linecap="butt"/>
<line x1="260.70" y1="223.00" x2="277.30" y2="206.40" stroke="#000" stroke-width="2.0" stroke-linecap="butt"/>
<path d="M378.7,52.8 H432.6 A18.5,18.5 0 0 1 451.1,71.3 V134.2 A18.5,18.5 0 0 1 432.6,152.7 H378.7 Z" fill="#fff" stroke="#939393" stroke-width="1.9"/>
<text transform="translate(393.21,109.05) scale(1.138,1)" fill="#939393" stroke="#fff" stroke-width="0.25" paint-order="fill stroke" stroke-linejoin="round" style='font-family:"DejaVu Math TeX Gyre", "DejaVu Serif", "DejaVu Sans", serif;font-size:37.26px;'>↓</text>
<text transform="translate(413.21,108.41) scale(1.153,1)" fill="#939393" stroke="#fff" stroke-width="0.25" paint-order="fill stroke" stroke-linejoin="round" style='font-family:"DejaVu Math TeX Gyre", "DejaVu Serif", "DejaVu Sans", serif;font-size:36.78px;'>↑</text>
<path d="M378.7,200.0 H432.6 A18.5,18.5 0 0 1 451.1,218.5 V281.7 A18.5,18.5 0 0 1 432.6,300.2 H378.7 Z" fill="#fff" stroke="#000" stroke-width="2.0"/>
<text x="414.00" y="245.60" text-anchor="middle" fill="#000" style='font-family:"Liberation Sans", sans-serif;font-size:20.6px;' >Cond.</text>
<text x="414.50" y="270.30" text-anchor="middle" fill="#000" style='font-family:"Liberation Sans", sans-serif;font-size:20.6px;font-style:italic;' >ST</text>
<text transform="translate(0.27,611.00) scale(1.027,1)" fill="#000" style='font-family:"Liberation Sans", sans-serif;font-size:26.30px;font-style:italic;'>Q</text>
<text x="18.73" y="619.20" fill="#000" style='font-family:"Liberation Sans", sans-serif;font-size:17.20px;'>1</text>
<text transform="translate(0.27,684.80) scale(1.027,1)" fill="#000" style='font-family:"Liberation Sans", sans-serif;font-size:26.30px;font-style:italic;'>Q</text>
<text x="18.33" y="693.00" fill="#000" style='font-family:"Liberation Sans", sans-serif;font-size:17.20px;'>2</text>
<text transform="translate(0.27,765.30) scale(1.027,1)" fill="#000" style='font-family:"Liberation Sans", sans-serif;font-size:26.30px;font-style:italic;'>Q</text>
<text x="18.54" y="773.50" fill="#000" style='font-family:"Liberation Sans", sans-serif;font-size:17.20px;'>3</text>
<text transform="translate(0.27,840.30) scale(1.027,1)" fill="#000" style='font-family:"Liberation Sans", sans-serif;font-size:26.30px;font-style:italic;'>Q</text>
<text x="18.81" y="848.50" fill="#000" style='font-family:"Liberation Sans", sans-serif;font-size:17.20px;'>4</text>
<text transform="translate(51.74,619.72) scale(0.945,1)" fill="#000" style='font-family:"Liberation Serif", "DejaVu Serif", serif;font-size:31.88px;'>|</text>
<text transform="translate(56.05,618.58) scale(1.162,1)" fill="#000" stroke="#fff" stroke-width="0.15" paint-order="fill stroke" stroke-linejoin="round" style='font-family:"DejaVu Math TeX Gyre", "DejaVu Serif", "DejaVu Sans", serif;font-size:28.49px;'>↓</text>
<text transform="translate(72.80,621.60) scale(0.722,1)" fill="#000" style='font-family:"DejaVu Math TeX Gyre", "DejaVu Serif", "DejaVu Sans", serif;font-size:34.00px;'>⟩</text>
<text transform="translate(51.74,691.82) scale(0.945,1)" fill="#000" style='font-family:"Liberation Serif", "DejaVu Serif", serif;font-size:31.88px;'>|</text>
<text transform="translate(57.31,689.51) scale(1.235,1)" fill="#000" stroke="#fff" stroke-width="0.15" paint-order="fill stroke" stroke-linejoin="round" style='font-family:"DejaVu Math TeX Gyre", "DejaVu Serif", "DejaVu Sans", serif;font-size:26.20px;'>↑</text>
<text transform="translate(72.80,693.70) scale(0.722,1)" fill="#000" style='font-family:"DejaVu Math TeX Gyre", "DejaVu Serif", "DejaVu Sans", serif;font-size:34.00px;'>⟩</text>
<text transform="translate(51.74,802.52) scale(0.945,1)" fill="#000" style='font-family:"Liberation Serif", "DejaVu Serif", serif;font-size:31.88px;'>|</text>
<text transform="translate(60.48,802.90) scale(0.944,1)" fill="#000" style='font-family:"Liberation Sans", sans-serif;font-size:27.00px;font-style:italic;'>S</text>
<text transform="translate(79.35,804.35) scale(0.684,1)" fill="#000" style='font-family:"DejaVu Math TeX Gyre", "DejaVu Serif", "DejaVu Sans", serif;font-size:34.36px;'>⟩</text>
<line x1="105.20" y1="607.60" x2="381.00" y2="607.60" stroke="#000" stroke-width="2.0" stroke-linecap="butt"/>
<line x1="105.20" y1="681.30" x2="381.00" y2="681.30" stroke="#000" stroke-width="2.0" stroke-linecap="butt"/>
<polyline points="381.0,755.3 138.2,755.3 105.2,791.8 138.2,827.4 151.1,827.4" fill="none" stroke="#000" stroke-width="2.0" stroke-linejoin="miter"/>
<line x1="228.80" y1="827.40" x2="381.00" y2="827.40" stroke="#000" stroke-width="2.0" stroke-linecap="butt"/>
<rect x="151.1" y="789.9" width="77.7" height="77.4" fill="#fff" stroke="#000" stroke-width="2.0"/>
<text x="190.00" y="836.50" text-anchor="middle" fill="#000" style='font-family:"Liberation Sans", sans-serif;font-size:25.5px;font-style:italic;' >U</text>
<path d="M237.70,595.00 C238.65,595.11 241.68,595.11 243.41,595.63 C245.15,596.16 246.95,596.86 248.11,598.16 C249.28,599.45 250.00,600.79 250.40,603.42 C250.80,606.05 250.78,610.25 250.50,613.94 C250.22,617.62 249.03,622.18 248.70,625.51 C248.37,628.84 248.32,631.47 248.50,633.92 C248.68,636.38 249.12,638.48 249.80,640.24 C250.48,641.99 251.57,643.35 252.60,644.44 C253.63,645.54 254.93,646.29 256.00,646.81 C257.07,647.34 258.50,647.47 259.00,647.60" fill="none" stroke="#939393" stroke-width="1.6"/>
<path d="M237.70,700.80 C238.65,700.69 241.68,700.69 243.41,700.16 C245.15,699.63 246.95,698.92 248.11,697.61 C249.28,696.30 250.00,694.95 250.40,692.29 C250.80,689.63 250.78,685.37 250.50,681.65 C250.22,677.92 249.03,673.31 248.70,669.94 C248.37,666.57 248.32,663.91 248.50,661.43 C248.68,658.95 249.12,656.82 249.80,655.05 C250.48,653.27 251.57,651.90 252.60,650.79 C253.63,649.68 254.93,648.93 256.00,648.40 C257.07,647.87 258.50,647.73 259.00,647.60" fill="none" stroke="#939393" stroke-width="1.6"/>
<polyline points="258.5,647.6 269.5,647.6 269.5,568.5" fill="none" stroke="#939393" stroke-width="1.6"/>
<path d="M269.5,561.8 L274.0,570.6 L269.5,568.9 L265.0,570.6 Z" fill="#939393"/>
<line x1="219.60" y1="607.60" x2="219.60" y2="681.30" stroke="#000" stroke-width="2.0" stroke-linecap="butt"/>
<circle cx="219.6" cy="646.4" r="15.3" fill="#fff" stroke="#000" stroke-width="2.0"/>
<text x="219.60" y="651.40" text-anchor="middle" fill="#000" style='font-family:"Liberation Sans", sans-serif;font-size:14.0px;' >1/2</text>
<line x1="211.30" y1="600.20" x2="227.90" y2="616.80" stroke="#000" stroke-width="2.0" stroke-linecap="butt"/>
<line x1="211.30" y1="616.80" x2="227.90" y2="600.20" stroke="#000" stroke-width="2.0" stroke-linecap="butt"/>
<line x1="211.30" y1="673.90" x2="227.90" y2="690.50" stroke="#000" stroke-width="2.0" stroke-linecap="butt"/>
<line x1="211.30" y1="690.50" x2="227.90" y2="673.90" stroke="#000" stroke-width="2.0" stroke-linecap="butt"/>
<line x1="327.30" y1="607.60" x2="327.30" y2="681.30" stroke="#000" stroke-width="2.0" stroke-linecap="butt"/>
<circle cx="327.3" cy="646.4" r="15.3" fill="#fff" stroke="#000" stroke-width="2.0"/>
<text x="327.30" y="651.40" text-anchor="middle" fill="#000" style='font-family:"Liberation Sans", sans-serif;font-size:14.0px;' >1/2</text>
<line x1="319.00" y1="600.20" x2="335.60" y2="616.80" stroke="#000" stroke-width="2.0" stroke-linecap="butt"/>
<line x1="319.00" y1="616.80" x2="335.60" y2="600.20" stroke="#000" stroke-width="2.0" stroke-linecap="butt"/>
<line x1="319.00" y1="673.90" x2="335.60" y2="690.50" stroke="#000" stroke-width="2.0" stroke-linecap="butt"/>
<line x1="319.00" y1="690.50" x2="335.60" y2="673.90" stroke="#000" stroke-width="2.0" stroke-linecap="butt"/>
<line x1="271.70" y1="681.30" x2="271.70" y2="755.30" stroke="#000" stroke-width="2.0" stroke-linecap="butt"/>
<line x1="263.40" y1="673.90" x2="280.00" y2="690.50" stroke="#000" stroke-width="2.0" stroke-linecap="butt"/>
<line x1="263.40" y1="690.50" x2="280.00" y2="673.90" stroke="#000" stroke-width="2.0" stroke-linecap="butt"/>
<line x1="263.40" y1="747.90" x2="280.00" y2="764.50" stroke="#000" stroke-width="2.0" stroke-linecap="butt"/>
<line x1="263.40" y1="764.50" x2="280.00" y2="747.90" stroke="#000" stroke-width="2.0" stroke-linecap="butt"/>
<path d="M380.8,594.1 H434.79999999999995 A18.6,18.6 0 0 1 453.4,612.7 V674.8 A18.6,18.6 0 0 1 434.79999999999995,693.4 H380.8 Z" fill="#fff" stroke="#000" stroke-width="2.0"/>
<text x="417.40" y="622.80" text-anchor="middle" fill="#000" style='font-family:"Liberation Sans", sans-serif;font-size:20.6px;' >Cond.</text>
<text transform="translate(395.99,664.61) scale(1.160,1)" fill="#000" stroke="#fff" stroke-width="0.25" paint-order="fill stroke" stroke-linejoin="round" style='font-family:"DejaVu Math TeX Gyre", "DejaVu Serif", "DejaVu Sans", serif;font-size:36.78px;'>↓</text>
<text transform="translate(416.39,663.77) scale(1.171,1)" fill="#000" stroke="#fff" stroke-width="0.25" paint-order="fill stroke" stroke-linejoin="round" style='font-family:"DejaVu Math TeX Gyre", "DejaVu Serif", "DejaVu Sans", serif;font-size:36.42px;'>↑</text>
<path d="M380.8,745.8 H435.09999999999997 A18.6,18.6 0 0 1 453.7,764.4 V827.8 A18.6,18.6 0 0 1 435.09999999999997,846.4 H380.8 Z" fill="#fff" stroke="#939393" stroke-width="1.9"/>
<text transform="translate(401.40,804.94) scale(0.932,1)" fill="#939393" style='font-family:"Liberation Sans", sans-serif;font-size:26.55px;font-style:italic;'>ST</text>
<path d="M340.00,742.20 C340.94,742.30 343.92,742.30 345.62,742.83 C347.33,743.35 349.10,744.05 350.25,745.34 C351.40,746.63 352.11,747.95 352.50,750.57 C352.89,753.18 352.88,757.37 352.60,761.03 C352.32,764.69 351.13,769.22 350.80,772.53 C350.47,775.85 350.42,778.46 350.60,780.90 C350.78,783.34 351.22,785.43 351.90,787.18 C352.58,788.92 353.68,790.27 354.70,791.36 C355.72,792.45 356.95,793.19 358.00,793.72 C359.05,794.24 360.50,794.37 361.00,794.50" fill="none" stroke="#939393" stroke-width="1.6"/>
<path d="M340.00,847.30 C340.94,847.19 343.92,847.19 345.62,846.67 C347.33,846.14 349.10,845.43 350.25,844.13 C351.40,842.83 352.11,841.49 352.50,838.85 C352.89,836.21 352.88,831.99 352.60,828.29 C352.32,824.60 351.13,820.02 350.80,816.68 C350.47,813.33 350.42,810.69 350.60,808.23 C350.78,805.76 351.22,803.65 351.90,801.89 C352.58,800.13 353.68,798.77 354.70,797.67 C355.72,796.57 356.95,795.82 358.00,795.29 C359.05,794.76 360.50,794.63 361.00,794.50" fill="none" stroke="#939393" stroke-width="1.6"/>
<polyline points="360.5,794.5 371.9,794.5 371.9,874.0" fill="none" stroke="#939393" stroke-width="1.6"/>
<path d="M371.9,880.9 L376.5,872.2 L371.9,873.9 L367.3,872.2 Z" fill="#939393"/>
<text transform="translate(114.84,535.35) scale(0.998,1)" fill="#000" style='font-family:"Liberation Serif", "DejaVu Serif", serif;font-size:26.16px;'>|</text>
<text transform="translate(120.83,531.11) scale(0.877,1)" fill="#000" style='font-family:"Liberation Serif", "DejaVu Serif", serif;font-size:28.12px;font-style:italic;'>ψ</text>
<text transform="translate(157.16,536.85) scale(0.697,1)" fill="#000" style='font-family:"DejaVu Math TeX Gyre", "DejaVu Serif", "DejaVu Sans", serif;font-size:28.20px;'>⟩</text>
<text transform="translate(201.03,556.30) scale(1.329,1)" fill="#000" style='font-family:"Liberation Serif", "DejaVu Serif", serif;font-size:29.20px;'>√</text>
<text transform="translate(219.81,555.70) scale(1.091,1)" fill="#000" style='font-family:"Liberation Sans", sans-serif;font-size:25.35px;'>2</text>
<text transform="translate(241.51,535.41) scale(0.771,1)" fill="#000" style='font-family:"Liberation Serif", "DejaVu Serif", serif;font-size:26.25px;'>(</text>
<text transform="translate(249.64,535.35) scale(1.151,1)" fill="#000" style='font-family:"Liberation Serif", "DejaVu Serif", serif;font-size:26.16px;'>|</text>
<text transform="translate(256.29,535.13) scale(0.908,1)" fill="#000" style='font-family:"Liberation Sans", sans-serif;font-size:27.54px;font-style:italic;'>S</text>
<text transform="translate(291.16,536.85) scale(0.697,1)" fill="#000" style='font-family:"DejaVu Math TeX Gyre", "DejaVu Serif", "DejaVu Sans", serif;font-size:28.20px;'>⟩</text>
<text transform="translate(331.11,536.20) scale(0.981,1)" fill="#000" style='font-family:"Liberation Sans", sans-serif;font-size:24.98px;font-style:italic;'>i</text>
<text transform="translate(342.94,535.35) scale(0.998,1)" fill="#000" style='font-family:"Liberation Serif", "DejaVu Serif", serif;font-size:26.16px;'>|</text>
<text transform="translate(347.25,536.50) scale(1.002,1)" fill="#000" style='font-family:"Liberation Sans", sans-serif;font-size:26.16px;font-style:italic;'>T</text>
<text transform="translate(399.16,536.85) scale(0.697,1)" fill="#000" style='font-family:"DejaVu Math TeX Gyre", "DejaVu Serif", "DejaVu Sans", serif;font-size:28.20px;'>⟩</text>
<text transform="translate(407.58,535.22) scale(0.933,1)" fill="#000" style='font-family:"Liberation Serif", "DejaVu Serif", serif;font-size:27.13px;'>)</text>
<text x="361.74" y="544.60" fill="#000" style='font-family:"Liberation Sans", sans-serif;font-size:17.00px;'>0,</text>
<text x="379.57" y="544.60" fill="#000" style='font-family:"Liberation Sans", sans-serif;font-size:16.80px;'>12</text>
<text x="137.97" y="540.00" fill="#000" style='font-family:"Liberation Sans", sans-serif;font-size:16.80px;'>12</text>
<text x="209.28" y="518.50" fill="#000" style='font-family:"Liberation Sans", sans-serif;font-size:25.00px;'>1</text>
<text x="273.27" y="543.20" fill="#000" style='font-family:"Liberation Sans", sans-serif;font-size:16.80px;'>12</text>
<line x1="200.90" y1="528.90" x2="233.80" y2="528.90" stroke="#000" stroke-width="1.3" stroke-linecap="butt"/>
<line x1="221.30" y1="534.00" x2="233.80" y2="534.00" stroke="#000" stroke-width="1.3" stroke-linecap="butt"/>
<text transform="translate(107.94,924.80) scale(0.708,1)" fill="#000" style='font-family:"DejaVu Math TeX Gyre", "DejaVu Serif", "DejaVu Sans", serif;font-size:34.72px;'>⟨</text>
<text transform="translate(158.93,935.10) scale(1.115,1)" fill="#000" style='font-family:"Liberation Sans", sans-serif;font-size:17.33px;'>2</text>
<text transform="translate(173.69,922.95) scale(0.873,1)" fill="#000" style='font-family:"Liberation Serif", "DejaVu Serif", serif;font-size:32.21px;'>|</text>
<text transform="translate(183.71,922.51) scale(0.814,1)" fill="#000" style='font-family:"Liberation Serif", "DejaVu Serif", serif;font-size:28.61px;font-style:italic;'>ψ</text>
<text transform="translate(201.42,924.80) scale(0.697,1)" fill="#000" style='font-family:"DejaVu Math TeX Gyre", "DejaVu Serif", "DejaVu Sans", serif;font-size:34.72px;'>⟩</text>
<text transform="translate(243.55,923.06) scale(0.859,1)" fill="#000" style='font-family:"Liberation Serif", "DejaVu Serif", serif;font-size:33.09px;'>(</text>
<text transform="translate(297.56,928.34) scale(0.977,1)" fill="#000" style='font-family:"Liberation Sans", sans-serif;font-size:26.51px;font-style:italic;'>U</text>
<text transform="translate(322.42,927.53) scale(1.029,1)" fill="#000" style='font-family:"Liberation Serif", "DejaVu Serif", serif;font-size:28.77px;'>·</text>
<text transform="translate(339.31,925.00) scale(0.978,1)" fill="#000" style='font-family:"Liberation Sans", sans-serif;font-size:26.16px;font-style:italic;'>R</text>
<text transform="translate(356.21,933.00) scale(1.121,1)" fill="#000" style='font-family:"Liberation Sans", sans-serif;font-size:17.22px;font-style:italic;'>z</text>
<text transform="translate(371.99,925.50) scale(0.841,1)" fill="#000" style='font-family:"Liberation Serif", "DejaVu Serif", serif;font-size:32.87px;'>(</text>
<text transform="translate(383.17,924.65) scale(0.904,1)" fill="#000" style='font-family:"Liberation Serif", "DejaVu Serif", serif;font-size:26.03px;font-style:italic;'>π</text>
<text transform="translate(397.20,924.94) scale(0.990,1)" fill="#000" style='font-family:"Liberation Sans", sans-serif;font-size:26.55px;'>/</text>
<text transform="translate(403.62,924.90) scale(1.070,1)" fill="#000" style='font-family:"Liberation Sans", sans-serif;font-size:25.64px;'>2</text>
<text transform="translate(419.13,925.50) scale(0.912,1)" fill="#000" style='font-family:"Liberation Serif", "DejaVu Serif", serif;font-size:32.87px;'>)</text>
<text transform="translate(430.32,925.50) scale(0.924,1)" fill="#000" style='font-family:"Liberation Serif", "DejaVu Serif", serif;font-size:32.87px;'>)</text>
<text transform="translate(447.64,925.47) scale(0.938,1)" fill="#000" style='font-family:"Liberation Serif", "DejaVu Serif", serif;font-size:32.10px;'>|</text>
<text transform="translate(457.57,925.56) scale(0.831,1)" fill="#000" style='font-family:"Liberation Serif", "DejaVu Serif", serif;font-size:28.85px;font-style:italic;'>ψ</text>
<text transform="translate(495.32,927.31) scale(0.686,1)" fill="#000" style='font-family:"DejaVu Math TeX Gyre", "DejaVu Serif", "DejaVu Sans", serif;font-size:35.31px;'>⟩</text>
<text transform="translate(266.72,926.64) scale(1.020,1)" fill="#000" stroke="#fff" stroke-width="1.10" paint-order="fill stroke" stroke-linejoin="round" style='font-family:"DejaVu Math TeX Gyre", "DejaVu Serif", "DejaVu Sans", serif;font-size:31.60px;'>⊗</text>
<text transform="translate(221.35,923.60) scale(1.103,1)" fill="#000" style='font-family:"Liberation Sans", sans-serif;font-size:25.00px;'>=</text>
<text x="134.97" y="935.10" fill="#000" style='font-family:"Liberation Sans", sans-serif;font-size:16.80px;'>1</text>
<text x="250.68" y="924.90" fill="#000" style='font-family:"Liberation Sans", sans-serif;font-size:25.00px;'>1</text>
<text x="474.57" y="935.00" fill="#000" style='font-family:"Liberation Sans", sans-serif;font-size:16.80px;'>12</text>
<text transform="translate(117.95,923.29) scale(1.192,1)" fill="#000" stroke="#fff" stroke-width="0.15" paint-order="fill stroke" stroke-linejoin="round" style='font-family:"DejaVu Math TeX Gyre", "DejaVu Serif", "DejaVu Sans", serif;font-size:27.76px;'>↓</text>
<text transform="translate(143.07,923.12) scale(1.193,1)" fill="#000" stroke="#fff" stroke-width="0.15" paint-order="fill stroke" stroke-linejoin="round" style='font-family:"DejaVu Math TeX Gyre", "DejaVu Serif", "DejaVu Sans", serif;font-size:27.52px;'>↑</text>
<text transform="translate(172.17,536.51) scale(1.674,1)" fill="#000" style='font-family:"Liberation Serif", "DejaVu Serif", serif;font-size:20.80px;'>=</text>
<text transform="translate(306.64,539.03) scale(1.116,1)" fill="#000" style='font-family:"Liberation Serif", "DejaVu Serif", serif;font-size:28.11px;'>−</text>
<polyline points="641.1,225.7 645.7,226.0 650.3,232.0 655.0,234.5 659.6,236.7 664.2,230.0 668.8,217.2 673.4,234.9 678.1,245.6 682.7,248.7 687.3,233.9 691.9,234.4 696.5,229.3 701.2,224.2 705.8,221.6 710.4,203.8 715.0,224.7 719.6,235.4 724.3,228.3 728.9,241.0 733.5,227.2 738.1,253.8 742.7,225.2 747.4,229.3 752.0,222.1 756.6,244.1 761.2,234.4 765.8,236.9 770.5,264.8 775.1,245.6 779.7,246.6 784.3,233.4 788.9,225.7 793.6,268.6 798.2,262.4 802.8,233.9 807.4,226.2 812.0,248.7 816.7,228.3 821.3,203.6 825.9,241.5 830.5,240.5 835.1,251.7 839.8,251.2 844.4,228.8 849.0,252.2 853.6,223.2 858.2,234.4 862.9,245.1 867.5,242.0 872.1,233.4 876.7,229.3 881.3,218.9 886.0,209.2 890.6,240.0 895.2,241.0 899.8,217.6 904.4,249.2 909.1,233.4 913.7,233.9 918.3,240.5 922.9,241.5 927.5,249.7 932.2,257.9 936.8,243.6 941.4,245.6 946.0,260.4 950.6,256.3 955.3,259.9 959.9,241.5 964.5,238.5 969.1,235.4 973.7,230.8 978.4,224.2 983.0,244.1 987.6,225.2 992.2,231.3 996.8,236.9 1001.5,234.9 1006.1,250.2 1010.7,223.7 1015.3,230.3 1019.9,244.1 1024.6,196.4 1029.2,214.0 1033.8,246.6 1038.4,216.5 1043.0,233.4 1047.7,215.5 1052.3,219.6 1056.9,233.9 1061.5,231.3 1066.1,236.4 1070.8,252.2 1075.4,238.0 1080.0,230.3 1084.6,225.2 1089.2,243.6 1093.9,231.3 1098.5,258.4 1103.1,225.2 1107.7,231.3 1112.3,229.8 1117.0,239.5 1121.6,240.5 1126.2,241.5 1130.8,240.0 1135.4,233.4 1140.1,244.6 1144.7,256.8 1149.3,245.6 1153.9,260.9 1158.5,255.3 1163.2,242.0 1167.8,250.2 1172.4,245.1 1177.0,247.1 1181.6,233.4 1186.3,258.9 1190.9,258.4 1195.5,236.9 1200.1,233.9 1204.7,232.9 1209.4,256.8 1214.0,246.1 1218.6,239.5 1223.2,247.1 1227.8,224.2" fill="none" stroke="#3d26a8" stroke-width="2.05" stroke-linejoin="round" stroke-miterlimit="6"/>
<polyline points="641.1,265.0 645.7,238.0 650.3,236.9 655.0,191.3 659.6,194.4 664.2,178.3 668.8,181.6 673.4,177.6 678.1,208.2 682.7,201.0 687.3,164.8 691.9,160.2 696.5,140.8 701.2,134.7 705.8,140.8 710.4,128.6 715.0,132.1 719.6,127.0 724.3,135.7 728.9,158.7 733.5,178.1 738.1,198.0 742.7,169.4 747.4,195.4 752.0,207.7 756.6,220.9 761.2,245.6 765.8,210.7 770.5,248.7 775.1,286.4 779.7,250.7 784.3,230.3 788.9,218.1 793.6,295.6 798.2,288.0 802.8,257.9 807.4,241.5 812.0,243.6 816.7,218.1 821.3,161.2 825.9,196.4 830.5,223.5 835.1,221.9 839.8,209.7 844.4,165.3 849.0,187.8 853.6,168.4 858.2,149.0 862.9,194.4 867.5,211.7 872.1,162.2 876.7,186.2 881.3,147.4 886.0,162.2 890.6,177.0 895.2,175.5 899.8,160.7 904.4,223.5 909.1,195.4 913.7,167.9 918.3,236.9 922.9,230.8 927.5,248.7 932.2,263.0 936.8,282.3 941.4,226.7 946.0,224.2 950.6,265.5 955.3,254.8 959.9,233.4 964.5,240.0 969.1,211.7 973.7,199.0 978.4,217.3 983.0,216.8 987.6,209.7 992.2,181.6 996.8,209.7 1001.5,194.4 1006.1,204.1 1010.7,180.1 1015.3,155.6 1019.9,176.0 1024.6,112.3 1029.2,151.0 1033.8,204.1 1038.4,158.2 1043.0,173.0 1047.7,147.4 1052.3,160.7 1056.9,200.5 1061.5,168.4 1066.1,214.8 1070.8,201.0 1075.4,208.7 1080.0,196.4 1084.6,189.3 1089.2,230.3 1093.9,210.7 1098.5,233.9 1103.1,199.5 1107.7,228.3 1112.3,216.3 1117.0,254.8 1121.6,242.6 1126.2,250.7 1130.8,245.6 1135.4,230.3 1140.1,230.3 1144.7,240.5 1149.3,196.9 1153.9,246.6 1158.5,211.2 1163.2,226.0 1167.8,200.5 1172.4,199.0 1177.0,192.3 1181.6,162.8 1186.3,195.9 1190.9,195.4 1195.5,160.2 1200.1,183.7 1204.7,185.7 1209.4,210.2 1214.0,163.3 1218.6,195.9 1223.2,189.8 1227.8,177.0" fill="none" stroke="#12b5c8" stroke-width="2.05" stroke-linejoin="round" stroke-miterlimit="6"/>
<polyline points="641.1,210.2 645.7,215.8 650.3,236.9 655.0,254.3 659.6,261.9 664.2,264.5 668.8,249.7 673.4,285.4 678.1,276.2 682.7,280.3 687.3,296.6 691.9,302.2 696.5,293.6 701.2,286.4 705.8,281.8 710.4,268.6 715.0,274.7 719.6,304.8 724.3,293.1 728.9,292.0 733.5,263.0 738.1,284.4 742.7,256.8 747.4,255.8 752.0,232.3 756.6,263.0 761.2,233.4 765.8,253.8 770.5,280.8 775.1,230.3 779.7,243.6 784.3,233.9 788.9,232.3 793.6,250.7 798.2,245.6 802.8,218.1 807.4,213.0 812.0,259.4 816.7,234.4 821.3,235.4 825.9,268.6 830.5,245.6 835.1,276.2 839.8,283.9 844.4,285.9 849.0,301.2 853.6,270.1 858.2,288.0 862.9,281.8 867.5,269.1 872.1,278.3 876.7,265.5 881.3,260.4 886.0,251.2 890.6,281.3 895.2,289.0 899.8,265.0 904.4,261.4 909.1,257.3 913.7,273.7 918.3,240.5 922.9,236.9 927.5,243.6 932.2,257.9 936.8,218.6 941.4,258.9 946.0,278.8 950.6,249.7 955.3,266.5 959.9,237.4 964.5,238.0 969.1,250.2 973.7,253.8 978.4,210.2 983.0,270.6 987.6,235.4 992.2,269.1 996.8,257.9 1001.5,266.5 1006.1,282.3 1010.7,261.9 1015.3,296.1 1019.9,310.4 1024.6,252.2 1029.2,278.3 1033.8,284.4 1038.4,271.1 1043.0,270.6 1047.7,266.5 1052.3,264.5 1056.9,258.9 1061.5,275.2 1066.1,250.7 1070.8,284.4 1075.4,259.9 1080.0,249.7 1084.6,239.5 1089.2,258.4 1093.9,242.0 1098.5,272.1 1103.1,241.5 1107.7,230.8 1112.3,236.4 1117.0,260.9 1121.6,238.5 1126.2,232.3 1130.8,234.4 1135.4,237.4 1140.1,252.8 1144.7,265.0 1149.3,292.0 1153.9,269.1 1158.5,281.3 1163.2,263.0 1167.8,282.3 1172.4,273.2 1177.0,284.4 1181.6,278.8 1186.3,298.7 1190.9,303.8 1195.5,290.5 1200.1,276.2 1204.7,269.1 1209.4,286.4 1214.0,302.2 1218.6,259.4 1223.2,281.3 1227.8,255.8" fill="none" stroke="#dcb626" stroke-width="2.05" stroke-linejoin="round" stroke-miterlimit="6"/>
<polyline points="641.1,264.5 643.4,259.7 645.7,254.4 648.0,248.9 650.3,243.0 652.6,236.8 655.0,230.5 657.3,223.9 659.6,217.2 661.9,210.5 664.2,203.7 666.5,197.0 668.8,190.3 671.1,183.8 673.4,177.5 675.8,171.4 678.1,165.5 680.4,160.1 682.7,155.0 685.0,150.2 687.3,146.0 689.6,142.2 691.9,138.9 694.2,136.2 696.5,134.0 698.9,132.4 701.2,131.4 703.5,131.0 705.8,131.1 708.1,131.9 710.4,133.2 712.7,135.1 715.0,137.6 717.3,140.6 719.6,144.2 722.0,148.2 724.3,152.7 726.6,157.6 728.9,162.9 731.2,168.6 733.5,174.6 735.8,180.8 738.1,187.2 740.4,193.8 742.7,200.5 745.1,207.2 747.4,214.0 749.7,220.7 752.0,227.3 754.3,233.7 756.6,240.0 758.9,245.9 761.2,251.6 763.5,257.0 765.8,262.0 768.1,266.5 770.5,270.6 772.8,274.3 775.1,277.4 777.4,279.9 779.7,281.9 782.0,283.3 784.3,284.2 786.6,284.4 788.9,284.1 791.2,283.2 793.6,281.7 795.9,279.6 798.2,276.9 800.5,273.8 802.8,270.1 805.1,265.9 807.4,261.3 809.7,256.3 812.0,250.9 814.4,245.2 816.7,239.2 819.0,233.0 821.3,226.5 823.6,219.9 825.9,213.3 828.2,206.6 830.5,199.9 832.8,193.2 835.1,186.7 837.5,180.4 839.8,174.2 842.1,168.4 844.4,162.8 846.7,157.6 849.0,152.8 851.3,148.4 853.6,144.4 855.9,141.0 858.2,138.1 860.6,135.7 862.9,133.9 865.2,132.6 867.5,132.0 869.8,131.9 872.1,132.4 874.4,133.5 876.7,135.2 879.0,137.4 881.3,140.2 883.7,143.5 886.0,147.3 888.3,151.6 890.6,156.2 892.9,161.3 895.2,166.8 897.5,172.5 899.8,178.6 902.1,184.8 904.4,191.3 906.8,197.8 909.1,204.4 911.4,211.1 913.7,217.7 916.0,224.2 918.3,230.7 920.6,236.9 922.9,242.9 925.2,248.6 927.5,254.0 929.9,259.1 932.2,263.7 934.5,267.9 936.8,271.7 939.1,274.9 941.4,277.6 943.7,279.8 946.0,281.4 948.3,282.5 950.6,283.0 953.0,282.9 955.3,282.2 957.6,280.9 959.9,279.1 962.2,276.7 964.5,273.8 966.8,270.4 969.1,266.5 971.4,262.2 973.7,257.4 976.0,252.3 978.4,246.8 980.7,241.0 983.0,235.0 985.3,228.8 987.6,222.4 989.9,215.9 992.2,209.3 994.5,202.8 996.8,196.3 999.2,189.8 1001.5,183.6 1003.8,177.5 1006.1,171.6 1008.4,166.1 1010.7,160.8 1013.0,156.0 1015.3,151.5 1017.6,147.5 1019.9,144.0 1022.2,140.9 1024.6,138.4 1026.9,136.4 1029.2,135.0 1031.5,134.1 1033.8,133.8 1036.1,134.1 1038.4,134.9 1040.7,136.3 1043.0,138.3 1045.3,140.8 1047.7,143.8 1050.0,147.3 1052.3,151.3 1054.6,155.7 1056.9,160.5 1059.2,165.6 1061.5,171.1 1063.8,176.9 1066.1,182.9 1068.5,189.1 1070.8,195.4 1073.1,201.8 1075.4,208.3 1077.7,214.7 1080.0,221.1 1082.3,227.4 1084.6,233.5 1086.9,239.4 1089.2,245.1 1091.5,250.5 1093.9,255.5 1096.2,260.2 1098.5,264.4 1100.8,268.2 1103.1,271.6 1105.4,274.4 1107.7,276.8 1110.0,278.5 1112.3,279.8 1114.7,280.5 1117.0,280.6 1119.3,280.2 1121.6,279.2 1123.9,277.6 1126.2,275.5 1128.5,272.9 1130.8,269.8 1133.1,266.2 1135.4,262.2 1137.8,257.8 1140.1,252.9 1142.4,247.8 1144.7,242.3 1147.0,236.6 1149.3,230.6 1151.6,224.5 1153.9,218.3 1156.2,211.9 1158.5,205.6 1160.8,199.3 1163.2,193.1 1165.5,187.0 1167.8,181.0 1170.1,175.3 1172.4,169.8 1174.7,164.6 1177.0,159.8 1179.3,155.4 1181.6,151.3 1184.0,147.7 1186.3,144.6 1188.6,141.9 1190.9,139.8 1193.2,138.2 1195.5,137.2 1197.8,136.7 1200.1,136.7 1202.4,137.3 1204.7,138.5 1207.1,140.1 1209.4,142.3 1211.7,145.0 1214.0,148.2 1216.3,151.9 1218.6,155.9 1220.9,160.4 1223.2,165.2" fill="none" stroke="#12b5c8" stroke-width="2.05" stroke-linejoin="round" stroke-miterlimit="6"/>
<polyline points="641.1,226.1 643.4,228.5 645.7,231.1 648.0,234.0 650.3,237.0 652.6,240.1 655.0,243.3 657.3,246.6 659.6,250.0 661.9,253.5 664.2,256.9 666.5,260.3 668.8,263.7 671.1,267.0 673.4,270.2 675.8,273.3 678.1,276.3 680.4,279.0 682.7,281.6 685.0,284.0 687.3,286.2 689.6,288.1 691.9,289.8 694.2,291.1 696.5,292.3 698.9,293.1 701.2,293.6 703.5,293.8 705.8,293.7 708.1,293.3 710.4,292.7 712.7,291.7 715.0,290.4 717.3,288.9 719.6,287.1 722.0,285.0 724.3,282.8 726.6,280.3 728.9,277.6 731.2,274.7 733.5,271.7 735.8,268.5 738.1,265.3 740.4,261.9 742.7,258.5 745.1,255.1 747.4,251.7 749.7,248.3 752.0,244.9 754.3,241.7 756.6,238.5 758.9,235.5 761.2,232.6 763.5,229.8 765.8,227.3 768.1,225.0 770.5,222.9 772.8,221.1 775.1,219.5 777.4,218.2 779.7,217.2 782.0,216.5 784.3,216.1 786.6,215.9 788.9,216.1 791.2,216.6 793.6,217.3 795.9,218.4 798.2,219.7 800.5,221.3 802.8,223.2 805.1,225.3 807.4,227.6 809.7,230.2 812.0,232.9 814.4,235.8 816.7,238.9 819.0,242.1 821.3,245.3 823.6,248.7 825.9,252.0 828.2,255.4 830.5,258.8 832.8,262.2 835.1,265.5 837.5,268.7 839.8,271.9 842.1,274.8 844.4,277.7 846.7,280.3 849.0,282.7 851.3,285.0 853.6,287.0 855.9,288.7 858.2,290.2 860.6,291.4 862.9,292.3 865.2,292.9 867.5,293.3 869.8,293.3 872.1,293.1 874.4,292.5 876.7,291.7 879.0,290.5 881.3,289.1 883.7,287.4 886.0,285.5 888.3,283.4 890.6,281.0 892.9,278.4 895.2,275.6 897.5,272.7 899.8,269.6 902.1,266.5 904.4,263.2 906.8,259.9 909.1,256.5 911.4,253.1 913.7,249.8 916.0,246.5 918.3,243.2 920.6,240.1 922.9,237.0 925.2,234.1 927.5,231.4 929.9,228.8 932.2,226.4 934.5,224.3 936.8,222.4 939.1,220.8 941.4,219.4 943.7,218.3 946.0,217.4 948.3,216.9 950.6,216.7 953.0,216.7 955.3,217.1 957.6,217.7 959.9,218.6 962.2,219.8 964.5,221.3 966.8,223.0 969.1,225.0 971.4,227.2 973.7,229.6 976.0,232.2 978.4,235.0 980.7,237.9 983.0,241.0 985.3,244.2 987.6,247.4 989.9,250.7 992.2,254.0 994.5,257.4 996.8,260.7 999.2,263.9 1001.5,267.1 1003.8,270.2 1006.1,273.2 1008.4,276.0 1010.7,278.6 1013.0,281.1 1015.3,283.4 1017.6,285.4 1019.9,287.2 1022.2,288.8 1024.6,290.0 1026.9,291.0 1029.2,291.8 1031.5,292.2 1033.8,292.4 1036.1,292.2 1038.4,291.8 1040.7,291.1 1043.0,290.1 1045.3,288.8 1047.7,287.3 1050.0,285.5 1052.3,283.5 1054.6,281.3 1056.9,278.8 1059.2,276.2 1061.5,273.4 1063.8,270.5 1066.1,267.5 1068.5,264.3 1070.8,261.1 1073.1,257.8 1075.4,254.6 1077.7,251.3 1080.0,248.1 1082.3,244.9 1084.6,241.8 1086.9,238.8 1089.2,235.9 1091.5,233.2 1093.9,230.6 1096.2,228.2 1098.5,226.1 1100.8,224.1 1103.1,222.5 1105.4,221.0 1107.7,219.8 1110.0,218.9 1112.3,218.3 1114.7,217.9 1117.0,217.9 1119.3,218.1 1121.6,218.6 1123.9,219.4 1126.2,220.4 1128.5,221.8 1130.8,223.3 1133.1,225.2 1135.4,227.2 1137.8,229.5 1140.1,231.9 1142.4,234.5 1144.7,237.3 1147.0,240.2 1149.3,243.2 1151.6,246.3 1153.9,249.5 1156.2,252.7 1158.5,255.9 1160.8,259.1 1163.2,262.3 1165.5,265.4 1167.8,268.4 1170.1,271.3 1172.4,274.1 1174.7,276.7 1177.0,279.2 1179.3,281.4 1181.6,283.5 1184.0,285.3 1186.3,286.9 1188.6,288.2 1190.9,289.3 1193.2,290.1 1195.5,290.6 1197.8,290.9 1200.1,290.9 1202.4,290.6 1204.7,290.0 1207.1,289.2 1209.4,288.0 1211.7,286.7 1214.0,285.1 1216.3,283.2 1218.6,281.1 1220.9,278.9 1223.2,276.4" fill="none" stroke="#dcb626" stroke-width="2.05" stroke-linejoin="round" stroke-miterlimit="6"/>
<polyline points="641.1,239.2 1223.2,239.2" fill="none" stroke="#3d26a8" stroke-width="2.05" stroke-linejoin="miter" stroke-miterlimit="6"/>
<polyline points="641.1,848.8 645.7,821.8 650.3,845.1 655.0,835.3 659.6,832.8 664.2,831.0 668.8,804.6 673.4,802.8 678.1,813.2 682.7,823.0 687.3,782.5 691.9,808.9 696.5,834.1 701.2,811.4 705.8,810.8 710.4,810.8 715.0,837.7 719.6,826.1 724.3,828.5 728.9,823.0 733.5,823.6 738.1,824.9 742.7,829.2 747.4,821.2 752.0,820.6 756.6,808.3 761.2,820.6 765.8,816.9 770.5,813.2 775.1,850.0 779.7,794.8 784.3,789.9 788.9,800.9 793.6,839.0 798.2,822.4 802.8,826.7 807.4,803.4 812.0,821.8 816.7,814.4 821.3,811.4 825.9,821.8 830.5,815.7 835.1,804.0 839.8,801.6 844.4,799.1 849.0,804.6 853.6,790.5 858.2,824.9 862.9,807.1 867.5,796.7 872.1,827.9 876.7,813.2 881.3,832.2 886.0,808.9 890.6,806.5 895.2,831.0 899.8,792.4 904.4,845.1 909.1,835.3 913.7,827.3 918.3,837.7 922.9,821.8 927.5,823.6 932.2,830.4 936.8,823.0 941.4,801.6 946.0,833.5 950.6,804.6 955.3,805.9 959.9,839.0 964.5,841.4 969.1,807.1 973.7,810.8 978.4,804.6 983.0,786.2 987.6,816.9 992.2,821.2 996.8,821.2 1001.5,786.8 1006.1,810.1 1010.7,788.7 1015.3,804.0 1019.9,783.8 1024.6,818.1 1029.2,805.2 1033.8,792.4 1038.4,809.5 1043.0,822.4 1047.7,808.3 1052.3,805.9 1056.9,816.9 1061.5,827.3 1066.1,818.7 1070.8,822.4 1075.4,796.7 1080.0,832.8 1084.6,861.7 1089.2,830.4 1093.9,827.9 1098.5,827.9 1103.1,823.0 1107.7,793.0 1112.3,825.5 1117.0,789.9 1121.6,815.7 1126.2,802.8 1130.8,830.4 1135.4,799.7 1140.1,832.8 1144.7,835.3 1149.3,800.9 1153.9,805.2 1158.5,823.6 1163.2,769.3 1167.8,834.1 1172.4,824.3 1177.0,821.8 1181.6,814.4 1186.3,835.9 1190.9,806.5 1195.5,808.3 1200.1,802.2 1204.7,814.4 1209.4,820.6 1214.0,821.8 1218.6,854.3 1223.2,823.0 1227.8,801.6" fill="none" stroke="#3d26a8" stroke-width="2.05" stroke-linejoin="round" stroke-miterlimit="6"/>
<polyline points="641.1,897.2 645.7,856.1 650.3,878.2 655.0,776.6 659.6,774.2 664.2,769.3 668.8,744.7 673.4,693.2 678.1,761.9 682.7,755.2 687.3,676.7 691.9,714.7 696.5,728.8 701.2,688.3 705.8,700.6 710.4,729.4 715.0,738.0 719.6,686.5 724.3,704.3 728.9,704.3 733.5,742.3 738.1,757.6 742.7,758.2 747.4,789.9 752.0,801.6 756.6,771.7 761.2,825.5 765.8,790.5 770.5,796.7 775.1,875.2 779.7,800.9 784.3,796.0 788.9,800.3 793.6,869.6 798.2,843.3 802.8,866.0 807.4,834.1 812.0,793.6 816.7,796.7 821.3,758.2 825.9,768.7 830.5,814.4 835.1,749.6 839.8,740.4 844.4,710.4 849.0,721.4 853.6,697.5 858.2,722.0 862.9,726.3 867.5,731.9 872.1,738.6 876.7,746.0 881.3,757.0 886.0,742.9 890.6,685.9 895.2,742.3 899.8,720.8 904.4,813.3 909.1,793.6 913.7,766.8 918.3,830.4 922.9,788.9 927.5,819.5 932.2,787.7 936.8,880.7 941.4,746.6 946.0,771.7 950.6,815.7 955.3,784.6 959.9,856.1 964.5,839.0 969.1,786.4 973.7,779.1 978.4,812.0 983.0,735.5 987.6,789.9 992.2,757.0 996.8,776.0 1001.5,728.2 1006.1,717.7 1010.7,706.7 1015.3,719.6 1019.9,672.4 1024.6,717.1 1029.2,726.3 1033.8,718.4 1038.4,733.7 1043.0,749.6 1047.7,723.9 1052.3,741.1 1056.9,758.2 1061.5,734.3 1066.1,769.3 1070.8,739.2 1075.4,758.2 1080.0,799.7 1084.6,819.3 1089.2,784.0 1093.9,812.0 1098.5,783.4 1103.1,808.3 1107.7,781.5 1112.3,823.0 1117.0,768.7 1121.6,815.7 1126.2,832.8 1130.8,852.5 1135.4,809.5 1140.1,800.9 1144.7,820.6 1149.3,728.2 1153.9,777.9 1158.5,779.1 1163.2,736.8 1167.8,759.5 1172.4,785.2 1177.0,743.5 1181.6,720.8 1186.3,740.4 1190.9,711.0 1195.5,720.8 1200.1,711.6 1204.7,728.8 1209.4,779.1 1214.0,707.3 1218.6,810.8 1223.2,732.5 1227.8,746.0" fill="none" stroke="#12b5c8" stroke-width="2.05" stroke-linejoin="round" stroke-miterlimit="6"/>
<polyline points="641.1,816.9 645.7,799.7 650.3,831.6 655.0,866.0 659.6,865.3 664.2,870.3 668.8,848.8 673.4,866.0 678.1,837.7 682.7,856.1 687.3,840.2 691.9,858.6 696.5,896.6 701.2,888.0 705.8,879.5 710.4,875.8 715.0,905.2 719.6,901.5 724.3,908.9 728.9,883.1 733.5,868.4 738.1,857.4 742.7,881.3 747.4,841.4 752.0,832.8 756.6,825.5 761.2,820.6 765.8,835.3 770.5,815.1 775.1,848.8 779.7,793.6 784.3,786.2 788.9,823.0 793.6,825.5 798.2,813.2 802.8,807.7 807.4,802.2 812.0,832.8 816.7,824.3 821.3,852.5 825.9,848.8 830.5,815.7 835.1,825.5 839.8,831.6 844.4,852.5 849.0,837.7 853.6,845.1 858.2,881.9 862.9,847.6 867.5,832.2 872.1,878.2 876.7,851.9 881.3,884.4 886.0,854.9 890.6,869.6 895.2,880.1 899.8,840.8 904.4,859.8 909.1,855.5 913.7,860.4 918.3,839.0 922.9,837.7 927.5,824.3 932.2,848.8 936.8,799.7 941.4,834.1 946.0,856.1 950.6,793.6 955.3,814.4 959.9,836.5 964.5,843.9 969.1,816.9 973.7,830.4 978.4,804.0 983.0,809.5 987.6,836.5 992.2,858.6 996.8,843.9 1001.5,813.8 1006.1,851.2 1010.7,839.0 1015.3,848.8 1019.9,835.9 1024.6,895.4 1029.2,859.8 1033.8,833.5 1038.4,865.3 1043.0,859.8 1047.7,865.3 1052.3,847.6 1056.9,848.8 1061.5,873.9 1066.1,848.2 1070.8,861.1 1075.4,815.1 1080.0,859.8 1084.6,887.4 1089.2,845.1 1093.9,837.7 1098.5,845.1 1103.1,834.1 1107.7,797.9 1112.3,854.3 1117.0,797.3 1121.6,816.3 1126.2,786.8 1130.8,818.1 1135.4,786.8 1140.1,839.0 1144.7,839.0 1149.3,836.5 1153.9,816.3 1158.5,842.0 1163.2,783.8 1167.8,870.9 1172.4,841.4 1177.0,859.2 1181.6,864.7 1186.3,871.5 1190.9,842.0 1195.5,855.5 1200.1,850.6 1204.7,861.7 1209.4,839.0 1214.0,874.5 1218.6,877.6 1223.2,859.8 1227.8,836.5" fill="none" stroke="#dcb626" stroke-width="2.05" stroke-linejoin="round" stroke-miterlimit="6"/>
<polyline points="641.1,852.7 643.4,848.1 645.7,843.1 648.0,837.8 650.3,832.2 652.6,826.4 655.0,820.3 657.3,814.1 659.6,807.8 661.9,801.5 664.2,795.1 666.5,788.8 668.8,782.6 671.1,776.5 673.4,770.6 675.8,764.9 678.1,759.6 680.4,754.5 682.7,749.8 685.0,745.5 687.3,741.6 689.6,738.1 691.9,735.2 694.2,732.7 696.5,730.8 698.9,729.5 701.2,728.6 703.5,728.3 705.8,728.6 708.1,729.5 710.4,730.9 712.7,732.8 715.0,735.3 717.3,738.2 719.6,741.7 722.0,745.5 724.3,749.9 726.6,754.6 728.9,759.6 731.2,765.0 733.5,770.7 735.8,776.6 738.1,782.6 740.4,788.8 742.7,795.1 745.1,801.5 747.4,807.8 749.7,814.1 752.0,820.2 754.3,826.3 756.6,832.1 758.9,837.6 761.2,842.9 763.5,847.9 765.8,852.5 768.1,856.7 770.5,860.4 772.8,863.7 775.1,866.5 777.4,868.8 779.7,870.6 782.0,871.8 784.3,872.5 786.6,872.6 788.9,872.2 791.2,871.2 793.6,869.7 795.9,867.6 798.2,865.0 800.5,862.0 802.8,858.4 805.1,854.4 807.4,850.0 809.7,845.3 812.0,840.1 814.4,834.7 816.7,829.0 819.0,823.1 821.3,817.1 823.6,810.9 825.9,804.6 828.2,798.3 830.5,792.0 832.8,785.8 835.1,779.8 837.5,773.8 839.8,768.1 842.1,762.7 844.4,757.5 846.7,752.7 849.0,748.3 851.3,744.2 853.6,740.6 855.9,737.5 858.2,734.8 860.6,732.7 862.9,731.1 865.2,730.0 867.5,729.5 869.8,729.5 872.1,730.1 874.4,731.2 876.7,732.9 879.0,735.0 881.3,737.7 883.7,740.9 886.0,744.5 888.3,748.6 890.6,753.0 892.9,757.8 895.2,763.0 897.5,768.4 899.8,774.1 902.1,780.0 904.4,786.0 906.8,792.1 909.1,798.3 911.4,804.6 913.7,810.7 916.0,816.9 918.3,822.8 920.6,828.6 922.9,834.2 925.2,839.5 927.5,844.5 929.9,849.2 932.2,853.5 934.5,857.3 936.8,860.8 939.1,863.8 941.4,866.2 943.7,868.2 946.0,869.7 948.3,870.6 950.6,870.9 953.0,870.8 955.3,870.1 957.6,868.8 959.9,867.1 962.2,864.8 964.5,862.0 966.8,858.8 969.1,855.1 971.4,851.0 973.7,846.5 976.0,841.7 978.4,836.5 980.7,831.1 983.0,825.4 985.3,819.6 987.6,813.6 989.9,807.6 992.2,801.4 994.5,795.3 996.8,789.3 999.2,783.3 1001.5,777.5 1003.8,771.8 1006.1,766.4 1008.4,761.2 1010.7,756.4 1013.0,751.9 1015.3,747.8 1017.6,744.1 1019.9,740.8 1022.2,738.0 1024.6,735.7 1026.9,733.9 1029.2,732.6 1031.5,731.9 1033.8,731.7 1036.1,732.0 1038.4,732.8 1040.7,734.2 1043.0,736.0 1045.3,738.4 1047.7,741.2 1050.0,744.5 1052.3,748.3 1054.6,752.4 1056.9,756.9 1059.2,761.7 1061.5,766.8 1063.8,772.2 1066.1,777.8 1068.5,783.6 1070.8,789.5 1073.1,795.4 1075.4,801.4 1077.7,807.4 1080.0,813.3 1082.3,819.2 1084.6,824.8 1086.9,830.3 1089.2,835.6 1091.5,840.5 1093.9,845.2 1096.2,849.5 1098.5,853.4 1100.8,856.9 1103.1,860.0 1105.4,862.6 1107.7,864.7 1110.0,866.4 1112.3,867.5 1114.7,868.1 1117.0,868.2 1119.3,867.7 1121.6,866.8 1123.9,865.3 1126.2,863.4 1128.5,860.9 1130.8,858.0 1133.1,854.7 1135.4,850.9 1137.8,846.8 1140.1,842.3 1142.4,837.5 1144.7,832.4 1147.0,827.1 1149.3,821.6 1151.6,816.0 1153.9,810.2 1156.2,804.3 1158.5,798.5 1160.8,792.7 1163.2,786.9 1165.5,781.2 1167.8,775.8 1170.1,770.5 1172.4,765.4 1174.7,760.7 1177.0,756.2 1179.3,752.1 1181.6,748.4 1184.0,745.1 1186.3,742.2 1188.6,739.8 1190.9,737.8 1193.2,736.4 1195.5,735.4 1197.8,734.9 1200.1,735.0 1202.4,735.6 1204.7,736.6 1207.1,738.2 1209.4,740.2 1211.7,742.7 1214.0,745.6 1216.3,749.0 1218.6,752.8 1220.9,756.9 1223.2,761.3" fill="none" stroke="#12b5c8" stroke-width="2.05" stroke-linejoin="round" stroke-miterlimit="6"/>
<polyline points="641.1,816.1 643.4,818.7 645.7,821.5 648.0,824.5 650.3,827.6 652.6,830.9 655.0,834.3 657.3,837.8 659.6,841.4 661.9,845.0 664.2,848.6 666.5,852.2 668.8,855.7 671.1,859.2 673.4,862.5 675.8,865.8 678.1,868.8 680.4,871.7 682.7,874.5 685.0,876.9 687.3,879.2 689.6,881.2 691.9,882.9 694.2,884.4 696.5,885.5 698.9,886.4 701.2,886.9 703.5,887.1 705.8,887.0 708.1,886.6 710.4,885.9 712.7,884.8 715.0,883.5 717.3,881.9 719.6,880.0 722.0,877.8 724.3,875.4 726.6,872.8 728.9,870.0 731.2,867.0 733.5,863.8 735.8,860.5 738.1,857.1 740.4,853.6 742.7,850.0 745.1,846.4 747.4,842.8 749.7,839.3 752.0,835.7 754.3,832.3 756.6,829.0 758.9,825.8 761.2,822.8 763.5,819.9 765.8,817.3 768.1,814.9 770.5,812.7 772.8,810.8 775.1,809.1 777.4,807.8 779.7,806.7 782.0,806.0 784.3,805.5 786.6,805.4 788.9,805.6 791.2,806.1 793.6,806.9 795.9,808.0 798.2,809.4 800.5,811.0 802.8,813.0 805.1,815.2 807.4,817.7 809.7,820.3 812.0,823.2 814.4,826.2 816.7,829.4 819.0,832.7 821.3,836.2 823.6,839.6 825.9,843.2 828.2,846.8 830.5,850.3 832.8,853.8 835.1,857.3 837.5,860.7 839.8,863.9 842.1,867.1 844.4,870.0 846.7,872.8 849.0,875.3 851.3,877.7 853.6,879.8 855.9,881.6 858.2,883.2 860.6,884.4 862.9,885.4 865.2,886.1 867.5,886.4 869.8,886.5 872.1,886.2 874.4,885.6 876.7,884.8 879.0,883.6 881.3,882.1 883.7,880.4 886.0,878.4 888.3,876.1 890.6,873.7 892.9,871.0 895.2,868.1 897.5,865.0 899.8,861.9 902.1,858.5 904.4,855.1 906.8,851.7 909.1,848.2 911.4,844.6 913.7,841.1 916.0,837.7 918.3,834.3 920.6,831.0 922.9,827.8 925.2,824.7 927.5,821.9 929.9,819.2 932.2,816.7 934.5,814.4 936.8,812.5 939.1,810.7 941.4,809.3 943.7,808.1 946.0,807.2 948.3,806.6 950.6,806.3 953.0,806.4 955.3,806.7 957.6,807.4 959.9,808.3 962.2,809.5 964.5,811.0 966.8,812.8 969.1,814.9 971.4,817.2 973.7,819.7 976.0,822.4 978.4,825.2 980.7,828.3 983.0,831.5 985.3,834.7 987.6,838.1 989.9,841.5 992.2,845.0 994.5,848.5 996.8,851.9 999.2,855.3 1001.5,858.6 1003.8,861.9 1006.1,865.0 1008.4,867.9 1010.7,870.7 1013.0,873.3 1015.3,875.7 1017.6,877.8 1019.9,879.7 1022.2,881.3 1024.6,882.7 1026.9,883.8 1029.2,884.6 1031.5,885.0 1033.8,885.2 1036.1,885.1 1038.4,884.7 1040.7,884.0 1043.0,883.0 1045.3,881.7 1047.7,880.2 1050.0,878.3 1052.3,876.3 1054.6,874.0 1056.9,871.5 1059.2,868.8 1061.5,865.9 1063.8,862.9 1066.1,859.7 1068.5,856.5 1070.8,853.2 1073.1,849.8 1075.4,846.4 1077.7,843.0 1080.0,839.6 1082.3,836.3 1084.6,833.1 1086.9,830.0 1089.2,827.0 1091.5,824.1 1093.9,821.4 1096.2,819.0 1098.5,816.7 1100.8,814.7 1103.1,812.9 1105.4,811.3 1107.7,810.1 1110.0,809.1 1112.3,808.4 1114.7,808.0 1117.0,807.9 1119.3,808.1 1121.6,808.6 1123.9,809.3 1126.2,810.4 1128.5,811.7 1130.8,813.3 1133.1,815.1 1135.4,817.2 1137.8,819.5 1140.1,822.0 1142.4,824.7 1144.7,827.6 1147.0,830.5 1149.3,833.6 1151.6,836.8 1153.9,840.1 1156.2,843.4 1158.5,846.7 1160.8,850.0 1163.2,853.3 1165.5,856.5 1167.8,859.6 1170.1,862.7 1172.4,865.5 1174.7,868.3 1177.0,870.8 1179.3,873.2 1181.6,875.4 1184.0,877.3 1186.3,879.0 1188.6,880.4 1190.9,881.5 1193.2,882.4 1195.5,883.0 1197.8,883.3 1200.1,883.4 1202.4,883.1 1204.7,882.6 1207.1,881.7 1209.4,880.6 1211.7,879.3 1214.0,877.7 1216.3,875.8 1218.6,873.7 1220.9,871.4 1223.2,869.0" fill="none" stroke="#dcb626" stroke-width="2.05" stroke-linejoin="round" stroke-miterlimit="6"/>
<polyline points="641.1,829.2 1223.2,830.7" fill="none" stroke="#3d26a8" stroke-width="2.05" stroke-linejoin="miter" stroke-miterlimit="6"/>
<polyline points="1374.0,338.4 1375.5,337.8 1377.4,332.9 1380.4,329.9 1383.5,325.6 1387.2,318.8 1389.6,321.0 1393.9,317.6 1396.4,318.6 1398.8,319.4 1401.9,313.9 1405.0,312.1 1406.8,312.7 1408.3,314.9 1410.5,313.3 1412.9,315.7 1415.4,317.8 1419.1,319.4 1420.9,323.7 1423.4,331.7 1424.6,332.9 1427.7,335.4 1431.0,337.8 1433.8,329.9 1436.9,321.3 1438.7,319.8 1441.1,318.6 1443.0,317.0 1447.3,307.8 1449.7,301.6 1451.6,297.3 1454.6,301.6 1458.1,305.9 1460.8,303.5 1463.2,300.8 1465.1,301.6 1467.5,305.3 1470.0,306.8 1472.4,304.7 1475.5,298.0 1477.9,294.5 1480.4,293.1 1483.5,292.8 1485.9,289.4 1488.4,287.2 1490.8,289.4 1493.9,294.3 1497.6,301.6 1500.6,305.9 1502.5,307.8 1504.3,308.0 1506.8,310.8 1509.8,310.5 1512.3,309.0 1514.1,305.3 1516.0,299.2 1518.4,294.3 1520.3,291.6 1522.7,289.1 1525.2,288.5 1527.6,287.5 1530.1,287.8 1532.5,290.0 1535.0,296.1 1537.4,305.3 1540.5,315.7 1543.0,321.3 1546.0,327.4 1549.7,334.1 1552.8,337.0 1556.5,339.1 1561.4,337.8 1566.3,338.7 1570.0,339.4 1572.4,339.3 1577.3,338.8 1579.7,336.6 1583.4,335.4 1586.5,332.3 1588.9,329.9 1591.4,328.9 1594.4,325.6 1598.1,321.3 1601.8,321.0 1605.2,318.6 1607.3,321.0 1609.8,322.7 1612.2,323.1 1614.7,324.9 1617.7,328.0 1620.2,329.2 1623.3,329.6 1625.7,332.9 1627.6,330.1 1630.6,329.2 1634.9,329.5 1638.6,330.5 1641.7,332.3 1644.7,334.1 1648.4,333.5 1650.9,331.7 1653.3,327.4 1655.5,326.4 1658.2,318.8 1660.7,312.1 1662.5,309.0 1666.8,310.8 1669.3,312.7 1671.7,316.1 1674.2,312.9 1676.6,311.5 1679.1,313.9 1680.9,317.8 1683.0,321.9 1685.8,315.1 1687.7,310.2 1690.1,304.7 1692.3,303.5 1694.4,309.6 1696.9,314.5 1699.3,300.8 1701.8,302.9 1704.8,305.9 1706.7,305.3 1708.5,301.6 1710.4,308.4 1712.8,309.0 1715.3,308.0 1717.1,308.0 1718.3,313.9 1719.8,324.7 1722.6,324.0 1725.1,322.7 1726.9,323.7 1728.8,336.0 1731.2,334.1 1734.3,335.7 1738.0,337.2 1741.6,338.4 1746.6,339.1 1750.2,340.3 1752.7,341.1 1756.4,340.3 1760.0,338.4 1763.1,336.6 1765.0,335.4 1770.6,335.4 1772.4,335.7 1776.1,335.1 1780.4,336.0 1783.8,337.8 1785.3,321.3 1786.2,313.9 1788.4,312.1 1791.4,311.5 1795.1,312.1 1797.8,311.2 1801.3,312.1 1803.7,312.4 1807.1,312.1 1809.2,323.7 1811.4,335.7 1814.7,336.0 1817.8,336.0 1820.3,336.6 1823.0,338.2 1825.2,336.6 1827.4,334.5 1830.1,336.0 1834.4,336.2 1838.1,335.4 1841.1,332.1 1844.2,332.9 1847.9,333.5 1852.2,332.9 1855.2,331.1 1859.5,331.3 1862.0,333.8 1864.4,332.6 1868.7,332.3 1871.5,330.5 1874.2,332.3 1876.7,334.8 1878.5,334.1 1880.4,329.6 1882.8,329.2 1884.7,326.8 1886.9,318.2 1889.6,320.7 1892.6,322.5 1895.7,321.9 1898.8,320.7 1900.6,322.7 1903.1,318.2 1905.5,320.0 1907.7,325.6 1910.4,321.3 1913.5,317.6 1917.2,314.2 1920.2,313.9 1923.3,315.7 1926.4,310.2 1928.8,306.5 1931.3,304.7 1933.7,299.2 1936.8,291.2 1939.3,285.7 1942.1,281.0 1944.8,282.6 1947.2,285.1 1949.1,287.2 1951.5,285.9 1953.4,291.2 1955.8,296.7 1958.3,294.9 1960.5,293.1" fill="none" stroke="#3d26a8" stroke-width="2.05" stroke-linejoin="round" stroke-miterlimit="6"/>
<polyline points="1374.0,223.4 1375.5,223.5 1378.0,226.4 1382.3,220.1 1385.3,222.7 1387.8,224.0 1389.6,227.7 1392.1,230.7 1394.5,238.0 1397.0,243.4 1398.8,247.0 1401.3,256.6 1403.7,261.7 1406.8,268.5 1411.1,278.6 1412.3,282.6 1415.4,286.6 1418.5,288.6 1421.5,284.5 1424.0,285.4 1426.4,287.2 1428.9,284.5 1431.3,280.2 1433.2,277.1 1435.6,269.7 1438.1,263.0 1439.9,259.1 1442.4,258.1 1444.6,256.0 1447.3,259.0 1450.3,260.5 1453.8,258.1 1455.9,264.4 1458.3,274.7 1461.4,285.7 1463.8,294.9 1465.7,297.9 1467.5,298.9 1469.4,301.7 1471.8,305.8 1474.9,309.4 1477.3,311.2 1479.2,310.2 1481.4,313.3 1483.5,312.6 1485.9,313.3 1488.4,311.1 1490.8,308.7 1493.3,309.0 1495.1,310.0 1497.6,310.8 1500.0,312.7 1502.5,314.1 1504.3,315.4 1506.8,313.9 1509.2,314.9 1512.3,315.5 1514.7,314.5 1517.2,310.8 1519.7,305.9 1522.7,300.4 1524.8,296.7 1527.0,298.6 1529.2,299.4 1531.9,298.6 1534.4,297.3 1536.8,300.4 1539.3,304.1 1541.7,305.9 1544.2,304.3 1546.0,301.4 1547.6,295.3 1549.7,296.3 1552.2,300.4 1554.2,302.3 1557.1,300.0 1559.5,298.8 1562.6,299.6 1566.3,300.0 1568.1,303.3 1570.0,308.0 1570.9,308.5 1573.6,303.5 1576.7,299.8 1579.7,296.1 1582.2,290.3 1584.6,285.8 1587.7,282.3 1590.8,278.8 1593.5,279.1 1596.3,277.0 1598.4,278.0 1600.6,283.2 1602.4,286.7 1604.9,287.6 1607.9,289.2 1611.4,292.1 1614.1,291.6 1616.5,296.1 1620.2,303.5 1622.7,307.2 1625.1,312.7 1628.2,315.7 1631.2,320.7 1633.7,324.4 1635.2,327.7 1637.4,326.6 1640.4,323.1 1644.1,319.4 1648.4,313.6 1651.5,307.5 1654.5,299.2 1657.6,290.6 1660.1,284.6 1662.5,281.1 1665.0,280.6 1667.4,278.9 1670.5,279.2 1672.3,279.3 1674.2,282.0 1676.6,284.5 1678.8,289.4 1680.9,288.8 1683.4,285.1 1686.4,279.4 1688.9,278.4 1691.3,279.3 1694.4,278.7 1696.9,282.6 1699.3,287.5 1701.2,294.3 1703.6,302.9 1706.1,309.0 1707.9,314.5 1710.4,317.6 1712.8,320.7 1714.9,324.7 1717.1,322.9 1719.8,320.8 1722.6,321.8 1725.7,323.3 1728.8,324.4 1731.2,327.6 1733.7,324.9 1736.1,320.7 1738.6,315.1 1741.6,305.3 1744.7,297.3 1747.8,291.8 1750.8,285.1 1753.9,281.4 1756.4,281.4 1759.4,282.0 1763.1,283.0 1765.0,277.7 1768.1,270.4 1771.2,261.8 1774.3,254.4 1777.3,244.6 1779.8,236.0 1781.6,231.1 1783.8,229.9 1785.9,232.3 1788.4,237.2 1790.8,242.1 1793.3,249.5 1795.7,256.9 1798.8,267.3 1800.6,272.8 1802.2,277.7 1804.3,277.7 1806.8,277.7 1809.2,280.3 1811.4,281.8 1814.1,278.9 1816.6,277.1 1818.4,275.6 1820.9,275.6 1822.7,270.4 1825.2,271.6 1828.2,273.4 1831.9,274.7 1834.4,278.3 1836.8,284.5 1838.7,288.1 1840.5,290.0 1843.0,295.5 1845.4,299.2 1847.9,302.3 1850.3,302.6 1852.8,301.6 1855.2,298.0 1857.7,291.8 1860.1,285.1 1862.0,281.4 1863.8,278.9 1866.3,274.4 1868.5,272.6 1870.9,274.4 1873.0,279.6 1875.5,286.9 1877.3,290.0 1879.8,294.9 1882.2,301.6 1884.7,306.5 1887.1,310.8 1889.6,315.5 1892.0,313.9 1893.9,309.9 1895.7,305.3 1898.2,306.2 1900.6,304.0 1903.7,301.4 1906.7,301.5 1909.8,300.9 1912.9,298.8 1915.9,294.0 1919.0,294.9 1921.5,295.8 1923.9,294.3 1926.4,289.4 1929.4,283.9 1932.5,278.9 1935.0,283.2 1937.4,287.5 1940.5,291.2 1942.9,297.3 1946.0,304.1 1948.5,309.6 1950.9,315.1 1953.4,321.3 1955.8,318.8 1958.0,314.8 1958.9,321.7 1960.5,332.9" fill="none" stroke="#12b5c8" stroke-width="2.05" stroke-linejoin="round" stroke-miterlimit="6"/>
<polyline points="1374.0,223.4 1375.5,223.1 1378.0,225.6 1382.3,218.8 1385.3,221.3 1387.8,222.5 1389.6,226.2 1392.1,229.3 1394.5,236.6 1397.0,242.1 1398.8,245.8 1401.3,255.6 1403.7,261.2 1406.8,268.5 1411.1,277.7 1412.3,281.4 1415.4,285.1 1418.5,287.5 1421.5,284.5 1424.0,285.4 1426.4,287.2 1428.9,284.5 1431.3,280.2 1433.2,277.1 1435.6,269.7 1438.1,263.0 1439.9,259.1 1442.4,258.1 1444.6,256.0 1447.3,259.0 1450.3,260.5 1453.8,259.3 1455.9,264.8 1458.3,274.7 1461.4,285.7 1463.8,294.9 1465.7,298.6 1467.5,299.8 1469.4,302.9 1471.8,307.2 1474.9,310.8 1477.3,312.7 1479.2,311.7 1481.4,314.8 1483.5,313.9 1485.9,314.5 1488.4,312.1 1490.8,309.2 1493.3,309.0 1495.1,310.0 1497.6,310.8 1500.0,312.7 1502.5,314.5 1504.3,316.4 1506.8,315.1 1509.2,316.1 1512.3,316.4 1514.7,314.5 1517.2,310.8 1519.7,305.9 1522.7,300.4 1524.8,296.7 1527.0,298.6 1529.2,299.4 1531.9,298.6 1534.4,297.3 1536.8,300.4 1539.3,304.1 1541.7,305.9 1544.2,304.3 1546.0,301.6 1547.6,296.7 1549.7,297.0 1552.2,300.4 1554.2,302.3 1557.1,299.2 1559.5,297.3 1562.6,298.0 1566.3,298.9 1568.1,302.9 1570.0,306.5 1570.9,307.2 1573.6,303.5 1576.7,299.8 1579.7,296.1 1582.2,290.6 1584.6,286.9 1587.7,283.9 1590.8,280.5 1593.5,280.8 1596.3,278.3 1598.4,278.9 1600.6,283.2 1602.4,287.9 1604.9,289.4 1607.9,291.2 1611.4,293.7 1614.1,291.6 1616.5,296.1 1620.2,303.5 1622.7,307.2 1625.1,312.7 1628.2,315.7 1631.2,320.7 1633.7,323.7 1635.2,326.8 1637.4,325.6 1640.4,321.9 1644.1,318.2 1648.4,312.7 1651.5,307.2 1654.5,299.2 1657.6,290.6 1660.1,284.7 1662.5,282.0 1665.0,281.8 1667.4,280.2 1670.5,280.2 1672.3,279.8 1674.2,282.0 1676.6,284.5 1678.8,289.4 1680.9,288.8 1683.4,285.1 1686.4,280.2 1688.9,279.6 1691.3,280.5 1694.4,279.6 1696.9,282.6 1699.3,287.5 1701.2,294.3 1703.6,302.9 1706.1,309.0 1707.9,314.5 1710.4,317.6 1712.8,320.7 1714.9,324.7 1717.1,323.5 1719.8,321.9 1722.6,323.1 1725.7,324.7 1728.8,325.6 1731.2,328.4 1733.7,324.9 1736.1,320.7 1738.6,315.1 1741.6,305.3 1744.7,297.3 1747.8,291.8 1750.8,285.1 1753.9,281.4 1756.4,281.4 1759.4,282.0 1763.1,283.0 1765.0,277.7 1768.1,270.4 1771.2,261.8 1774.3,254.4 1777.3,244.6 1779.8,236.0 1781.6,231.1 1783.8,229.9 1785.9,232.3 1788.4,237.2 1790.8,242.1 1793.3,249.5 1795.7,256.9 1798.8,267.3 1800.6,272.8 1802.2,277.7 1804.3,277.7 1806.8,277.7 1809.2,279.3 1811.4,280.5 1814.1,278.9 1816.6,277.1 1818.4,275.6 1820.9,275.6 1822.7,270.4 1825.2,271.6 1828.2,273.4 1831.9,274.7 1834.4,278.3 1836.8,284.5 1838.7,288.1 1840.5,290.0 1843.0,295.5 1845.4,299.2 1847.9,302.3 1850.3,302.6 1852.8,301.6 1855.2,298.0 1857.7,291.8 1860.1,285.1 1862.0,281.4 1863.8,278.9 1866.3,274.4 1868.5,272.6 1870.9,274.4 1873.0,279.6 1875.5,286.9 1877.3,290.0 1879.8,294.9 1882.2,301.6 1884.7,306.5 1887.1,310.8 1889.6,314.5 1892.0,313.9 1893.9,308.4 1895.7,301.6 1898.2,301.0 1900.6,298.0 1903.7,294.9 1906.7,295.3 1909.8,295.5 1912.9,295.3 1915.9,294.0 1919.0,294.9 1921.5,295.8 1923.9,294.3 1926.4,289.4 1929.4,283.9 1932.5,278.9 1935.0,283.2 1937.4,287.5 1940.5,291.2 1942.9,297.3 1946.0,304.1 1948.5,309.6 1950.9,315.1 1953.4,321.3 1955.8,322.5 1958.0,319.4 1958.9,324.9 1960.5,332.9" fill="none" stroke="#dcb626" stroke-width="2.05" stroke-linejoin="round" stroke-miterlimit="6"/>
<polyline points="1374.0,800.4 1375.5,800.1 1378.0,802.6 1382.3,795.8 1385.3,797.5 1387.8,798.5 1389.6,802.0 1392.1,804.9 1394.5,812.2 1397.0,817.6 1398.8,821.0 1401.3,830.7 1403.7,836.2 1406.8,843.9 1411.1,854.3 1412.3,858.4 1415.4,862.1 1418.5,864.5 1421.5,861.5 1424.0,862.4 1426.4,864.2 1428.9,861.5 1431.3,857.2 1433.2,854.1 1435.6,846.7 1438.1,840.0 1439.9,836.1 1442.4,835.1 1444.6,833.0 1447.3,836.0 1450.3,837.5 1453.8,836.3 1455.9,841.8 1458.3,851.7 1461.4,862.7 1463.8,871.9 1465.7,875.6 1467.5,876.8 1469.4,879.9 1471.8,884.2 1474.9,887.8 1477.3,889.7 1479.2,888.7 1481.4,891.8 1483.5,890.9 1485.9,891.5 1488.4,889.1 1490.8,886.2 1493.3,886.0 1495.1,887.0 1497.6,887.8 1500.0,889.7 1502.5,891.5 1504.3,893.4 1506.8,892.1 1509.2,893.1 1512.3,893.4 1514.7,891.5 1517.2,887.8 1519.7,882.9 1522.7,877.4 1524.8,873.7 1527.0,875.6 1529.2,876.4 1531.9,875.6 1534.4,874.3 1536.8,877.4 1539.3,881.1 1541.7,882.9 1544.2,881.3 1546.0,878.6 1547.6,873.7 1549.7,874.0 1552.2,877.4 1554.2,878.2 1557.1,874.3 1559.5,872.2 1562.6,872.7 1566.3,874.1 1568.1,878.6 1570.0,883.3 1570.9,884.2 1573.6,880.5 1576.7,876.8 1579.7,873.1 1582.2,867.6 1584.6,863.9 1587.7,860.9 1590.8,857.5 1593.5,857.8 1596.3,855.3 1598.4,855.9 1600.6,860.2 1602.4,864.9 1604.9,866.4 1607.9,868.2 1611.4,870.7 1614.1,868.6 1616.5,873.1 1620.2,880.5 1622.7,884.2 1625.1,889.7 1628.2,892.7 1631.2,897.7 1633.7,900.7 1635.2,903.8 1637.4,902.6 1640.4,898.9 1644.1,895.2 1648.4,889.7 1651.5,884.2 1654.5,876.2 1657.6,867.6 1660.1,861.7 1662.5,859.0 1665.0,858.8 1667.4,857.2 1670.5,857.2 1672.3,856.8 1674.2,859.0 1676.6,861.5 1678.8,866.4 1680.9,865.8 1683.4,862.1 1686.4,857.2 1688.9,856.6 1691.3,857.5 1694.4,856.6 1696.9,859.6 1699.3,864.5 1701.2,871.3 1703.6,879.9 1706.1,886.0 1707.9,891.5 1710.4,894.6 1712.8,897.7 1714.9,901.7 1717.1,900.5 1719.8,898.9 1722.6,900.1 1725.7,901.7 1728.8,902.6 1731.2,905.4 1733.7,901.9 1736.1,897.7 1738.6,892.1 1741.6,882.3 1744.7,874.3 1747.8,868.8 1750.8,862.1 1753.9,858.4 1756.4,858.4 1759.4,859.0 1763.1,860.0 1765.0,854.7 1768.1,847.4 1771.2,838.8 1774.3,831.4 1777.3,821.6 1779.8,813.0 1781.6,808.1 1783.8,806.9 1785.9,809.3 1788.4,814.2 1790.8,819.1 1793.3,826.5 1795.7,833.9 1798.8,844.3 1800.6,849.3 1802.2,853.7 1804.3,853.4 1806.8,853.2 1809.2,854.9 1811.4,856.3 1814.1,855.3 1816.6,854.1 1818.4,852.6 1820.9,852.6 1822.7,847.4 1825.2,848.6 1828.2,850.4 1831.9,851.7 1834.4,855.3 1836.8,861.5 1838.7,865.1 1840.5,867.0 1843.0,872.5 1845.4,876.2 1847.9,879.3 1850.3,879.6 1852.8,878.6 1855.2,875.0 1857.7,868.8 1860.1,862.1 1862.0,858.4 1863.8,855.9 1866.3,851.4 1868.5,849.6 1870.9,851.4 1873.0,856.6 1875.5,863.9 1877.3,867.0 1879.8,871.9 1882.2,878.6 1884.7,883.5 1887.1,887.8 1889.6,891.5 1892.0,890.9 1893.9,885.4 1895.7,878.6 1898.2,878.0 1900.6,875.0 1903.7,871.9 1906.7,872.3 1909.8,872.5 1912.9,872.3 1915.9,871.0 1919.0,871.9 1921.5,872.8 1923.9,871.3 1926.4,866.4 1929.4,860.9 1932.5,855.9 1935.0,860.2 1937.4,864.5 1940.5,868.2 1942.9,874.3 1946.0,881.1 1948.5,886.6 1950.9,892.1 1953.4,898.3 1955.8,899.5 1958.0,899.0 1958.9,904.9 1960.5,911.8" fill="none" stroke="#3d26a8" stroke-width="2.05" stroke-linejoin="round" stroke-miterlimit="6"/>
<polyline points="1374.0,800.4 1375.5,800.1 1378.0,802.6 1382.3,795.8 1385.3,798.3 1387.8,799.5 1389.6,803.2 1392.1,806.3 1394.5,813.6 1397.0,819.1 1398.8,822.8 1401.3,832.6 1403.7,838.2 1406.8,845.5 1411.1,854.7 1412.3,858.4 1415.4,862.1 1418.5,864.5 1421.5,861.5 1424.0,862.4 1426.4,864.2 1428.9,861.5 1431.3,857.2 1433.2,854.1 1435.6,846.7 1438.1,840.0 1439.9,836.1 1442.4,835.1 1444.6,833.0 1447.3,836.0 1450.3,837.5 1453.8,836.3 1455.9,841.8 1458.3,851.7 1461.4,862.7 1463.8,871.9 1465.7,875.6 1467.5,876.8 1469.4,879.9 1471.8,884.2 1474.9,887.8 1477.3,889.7 1479.2,888.7 1481.4,891.8 1483.5,890.9 1485.9,891.5 1488.4,889.1 1490.8,886.2 1493.3,886.0 1495.1,887.0 1497.6,887.8 1500.0,889.7 1502.5,891.5 1504.3,893.4 1506.8,892.1 1509.2,893.1 1512.3,893.4 1514.7,891.5 1517.2,887.8 1519.7,882.9 1522.7,877.4 1524.8,873.7 1527.0,875.6 1529.2,876.4 1531.9,875.6 1534.4,874.3 1536.8,877.4 1539.3,881.1 1541.7,882.9 1544.2,881.3 1546.0,878.6 1547.6,873.7 1549.7,874.0 1552.2,877.4 1554.2,879.3 1557.1,876.2 1559.5,874.3 1562.6,875.0 1566.3,875.9 1568.1,879.9 1570.0,883.5 1570.9,884.2 1573.6,880.5 1576.7,876.8 1579.7,873.1 1582.2,867.6 1584.6,863.9 1587.7,860.9 1590.8,857.5 1593.5,857.8 1596.3,855.3 1598.4,855.9 1600.6,860.2 1602.4,864.9 1604.9,866.4 1607.9,868.2 1611.4,870.7 1614.1,868.6 1616.5,873.1 1620.2,880.5 1622.7,884.2 1625.1,889.7 1628.2,892.7 1631.2,897.7 1633.7,900.7 1635.2,903.8 1637.4,902.6 1640.4,898.9 1644.1,895.2 1648.4,889.7 1651.5,884.2 1654.5,876.2 1657.6,867.6 1660.1,861.7 1662.5,859.0 1665.0,858.8 1667.4,857.2 1670.5,857.2 1672.3,856.8 1674.2,859.0 1676.6,861.5 1678.8,866.4 1680.9,865.8 1683.4,862.1 1686.4,857.2 1688.9,856.6 1691.3,857.5 1694.4,856.6 1696.9,859.6 1699.3,864.5 1701.2,871.3 1703.6,879.9 1706.1,886.0 1707.9,891.5 1710.4,894.6 1712.8,897.7 1714.9,901.7 1717.1,900.5 1719.8,898.9 1722.6,900.1 1725.7,901.7 1728.8,902.6 1731.2,905.4 1733.7,901.9 1736.1,897.7 1738.6,892.1 1741.6,882.3 1744.7,874.3 1747.8,868.8 1750.8,862.1 1753.9,858.4 1756.4,858.4 1759.4,859.0 1763.1,860.0 1765.0,854.7 1768.1,847.4 1771.2,838.8 1774.3,831.4 1777.3,821.6 1779.8,813.0 1781.6,808.1 1783.8,806.9 1785.9,809.3 1788.4,814.2 1790.8,819.1 1793.3,826.5 1795.7,833.9 1798.8,844.3 1800.6,849.8 1802.2,854.7 1804.3,854.7 1806.8,854.7 1809.2,856.3 1811.4,857.5 1814.1,855.9 1816.6,854.1 1818.4,852.6 1820.9,852.6 1822.7,847.4 1825.2,848.6 1828.2,850.4 1831.9,851.7 1834.4,855.3 1836.8,861.5 1838.7,865.1 1840.5,867.0 1843.0,872.5 1845.4,876.2 1847.9,879.3 1850.3,879.6 1852.8,878.6 1855.2,875.0 1857.7,868.8 1860.1,862.1 1862.0,858.4 1863.8,855.9 1866.3,851.4 1868.5,849.6 1870.9,851.4 1873.0,856.6 1875.5,863.9 1877.3,867.0 1879.8,871.9 1882.2,878.6 1884.7,883.5 1887.1,887.8 1889.6,891.5 1892.0,890.9 1893.9,885.4 1895.7,878.6 1898.2,878.0 1900.6,875.0 1903.7,871.9 1906.7,872.3 1909.8,872.5 1912.9,872.3 1915.9,871.0 1919.0,871.9 1921.5,872.8 1923.9,871.3 1926.4,866.4 1929.4,860.9 1932.5,855.9 1935.0,860.2 1937.4,864.5 1940.5,868.2 1942.9,874.3 1946.0,881.1 1948.5,886.6 1950.9,892.1 1953.4,898.3 1955.8,896.6 1958.0,892.7 1958.9,899.4 1960.5,909.9" fill="none" stroke="#12b5c8" stroke-width="2.05" stroke-linejoin="round" stroke-miterlimit="6"/>
</svg>
</body></html>
